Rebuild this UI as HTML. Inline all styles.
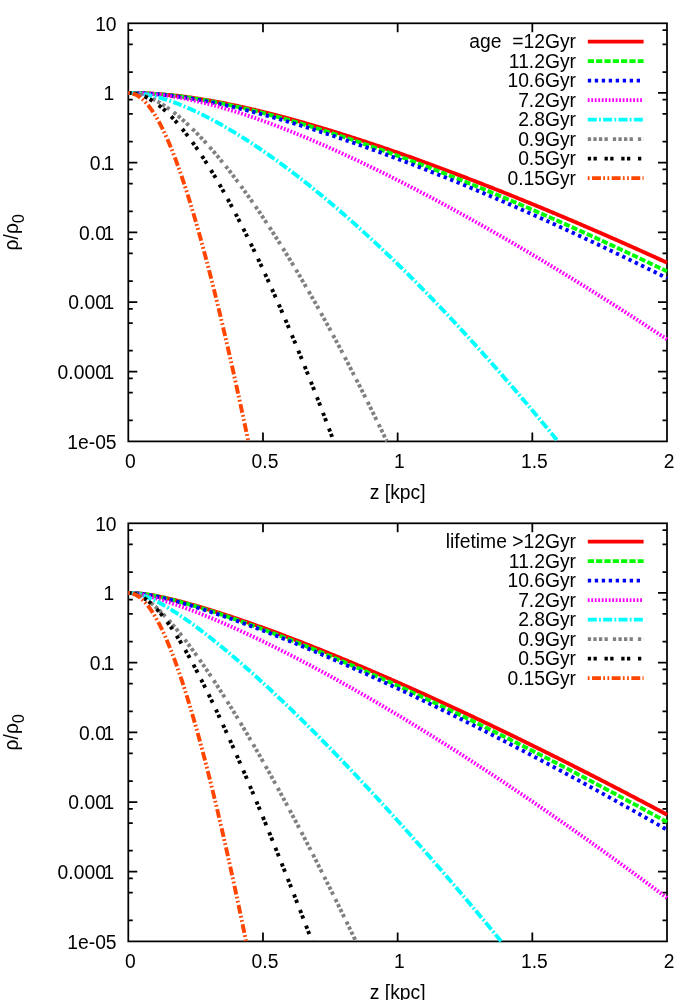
<!DOCTYPE html>
<html><head><meta charset="utf-8"><title>chart</title>
<style>
html,body{margin:0;padding:0;background:#fff;}
svg{display:block;will-change:transform;}
text{font-family:"Liberation Sans",sans-serif;font-size:19.3px;fill:#000;}
</style></head><body>
<svg width="700" height="1000" viewBox="0 0 700 1000">
<rect width="700" height="1000" fill="#fff"/>
<rect x="128.3" y="23.3" width="538.7" height="418.09999999999997" fill="none" stroke="#000" stroke-width="1.75"/>
<path d="M128.3,30.05h4.5 M667.0,30.05h-4.5 M128.3,44.28h4.5 M667.0,44.28h-4.5 M128.3,72.01h4.5 M667.0,72.01h-4.5 M128.3,92.98h9 M667.0,92.98h-9 M128.3,99.74h4.5 M667.0,99.74h-4.5 M128.3,113.96h4.5 M667.0,113.96h-4.5 M128.3,141.69h4.5 M667.0,141.69h-4.5 M128.3,162.67h9 M667.0,162.67h-9 M128.3,169.42h4.5 M667.0,169.42h-4.5 M128.3,183.64h4.5 M667.0,183.64h-4.5 M128.3,211.37h4.5 M667.0,211.37h-4.5 M128.3,232.35h9 M667.0,232.35h-9 M128.3,239.10h4.5 M667.0,239.10h-4.5 M128.3,253.33h4.5 M667.0,253.33h-4.5 M128.3,281.06h4.5 M667.0,281.06h-4.5 M128.3,302.03h9 M667.0,302.03h-9 M128.3,308.79h4.5 M667.0,308.79h-4.5 M128.3,323.01h4.5 M667.0,323.01h-4.5 M128.3,350.74h4.5 M667.0,350.74h-4.5 M128.3,371.72h9 M667.0,371.72h-9 M128.3,378.47h4.5 M667.0,378.47h-4.5 M128.3,392.69h4.5 M667.0,392.69h-4.5 M128.3,420.42h4.5 M667.0,420.42h-4.5 M262.98,441.4v-9 M262.98,23.3v9 M397.65,441.4v-9 M397.65,23.3v9 M532.33,441.4v-9 M532.33,23.3v9" fill="none" stroke="#000" stroke-width="1.75"/>
<text transform="translate(116.60,30.50) scale(1,1.045)" text-anchor="end">10</text>
<text transform="translate(114.30,100.18) scale(1,1.045)" text-anchor="end">1</text>
<text transform="translate(114.30,169.87) scale(1,1.045)" text-anchor="end">0.<tspan dx="-2.3">1</tspan></text>
<text transform="translate(114.30,239.55) scale(1,1.045)" text-anchor="end">0.0<tspan dx="-2.3">1</tspan></text>
<text transform="translate(114.30,309.23) scale(1,1.045)" text-anchor="end">0.00<tspan dx="-2.3">1</tspan></text>
<text transform="translate(114.30,378.92) scale(1,1.045)" text-anchor="end">0.000<tspan dx="-2.3">1</tspan></text>
<text transform="translate(116.60,448.60) scale(1,1.045)" text-anchor="end">1e-05</text>
<text transform="translate(130.30,467.60) scale(1,1.045)" text-anchor="middle">0</text>
<text transform="translate(264.98,467.60) scale(1,1.045)" text-anchor="middle">0.5</text>
<text transform="translate(399.45,467.60) scale(1,1.045)" text-anchor="middle">1</text>
<text transform="translate(534.33,467.60) scale(1,1.045)" text-anchor="middle">1.5</text>
<text transform="translate(669.00,467.60) scale(1,1.045)" text-anchor="middle">2</text>
<text x="397.65" y="498.70" text-anchor="middle">z [kpc]</text>
<text transform="translate(17.7,232.35) rotate(-90)" text-anchor="middle">ρ/ρ<tspan font-size="15.8" dy="6.5">0</tspan></text>
<text x="576" y="48.20" text-anchor="end">age&#160;&#160;=12Gyr</text>
<path d="M587.8,41.60H643.6" fill="none" stroke="#ff0000" stroke-width="3.9"/>
<path d="M128.30,92.98 L129.65,92.99 L131.00,92.99 L132.35,93.00 L133.70,93.02 L135.05,93.04 L136.40,93.06 L137.75,93.09 L139.10,93.13 L140.45,93.17 L141.80,93.21 L143.15,93.25 L144.50,93.31 L145.85,93.36 L147.20,93.42 L148.55,93.49 L149.90,93.56 L151.25,93.63 L152.60,93.71 L153.95,93.79 L155.30,93.88 L156.65,93.97 L158.00,94.06 L159.35,94.16 L160.70,94.26 L162.05,94.37 L163.40,94.48 L164.75,94.60 L166.10,94.72 L167.45,94.84 L168.80,94.97 L170.15,95.10 L171.50,95.23 L172.85,95.37 L174.20,95.52 L175.55,95.66 L176.90,95.81 L178.25,95.97 L179.60,96.13 L180.95,96.29 L182.31,96.46 L183.66,96.62 L185.01,96.80 L186.36,96.97 L187.71,97.15 L189.06,97.34 L190.41,97.53 L191.76,97.72 L193.11,97.91 L194.46,98.11 L195.81,98.31 L197.16,98.51 L198.51,98.72 L199.86,98.93 L201.21,99.15 L202.56,99.36 L203.91,99.58 L205.26,99.81 L206.61,100.03 L207.96,100.26 L209.31,100.49 L210.66,100.73 L212.01,100.97 L213.36,101.21 L214.71,101.45 L216.06,101.70 L217.41,101.95 L218.76,102.20 L220.11,102.46 L221.46,102.72 L222.81,102.98 L224.16,103.24 L225.51,103.51 L226.86,103.78 L228.21,104.05 L229.56,104.32 L230.91,104.60 L232.26,104.88 L233.61,105.16 L234.96,105.45 L236.31,105.73 L237.66,106.02 L239.01,106.31 L240.36,106.61 L241.71,106.90 L243.06,107.20 L244.41,107.50 L245.76,107.81 L247.11,108.11 L248.46,108.42 L249.81,108.73 L251.16,109.04 L252.51,109.36 L253.86,109.67 L255.21,109.99 L256.56,110.31 L257.91,110.63 L259.26,110.96 L260.61,111.29 L261.96,111.61 L263.31,111.95 L264.66,112.28 L266.01,112.61 L267.36,112.95 L268.71,113.29 L270.06,113.63 L271.41,113.97 L272.76,114.32 L274.11,114.66 L275.46,115.01 L276.81,115.36 L278.16,115.71 L279.51,116.07 L280.86,116.42 L282.21,116.78 L283.56,117.14 L284.91,117.50 L286.26,117.86 L287.61,118.23 L288.96,118.59 L290.32,118.96 L291.67,119.33 L293.02,119.70 L294.37,120.07 L295.72,120.45 L297.07,120.82 L298.42,121.20 L299.77,121.58 L301.12,121.96 L302.47,122.34 L303.82,122.73 L305.17,123.11 L306.52,123.50 L307.87,123.89 L309.22,124.28 L310.57,124.67 L311.92,125.06 L313.27,125.46 L314.62,125.85 L315.97,126.25 L317.32,126.65 L318.67,127.05 L320.02,127.45 L321.37,127.85 L322.72,128.26 L324.07,128.66 L325.42,129.07 L326.77,129.48 L328.12,129.89 L329.47,130.30 L330.82,130.71 L332.17,131.13 L333.52,131.54 L334.87,131.96 L336.22,132.38 L337.57,132.80 L338.92,133.22 L340.27,133.64 L341.62,134.06 L342.97,134.49 L344.32,134.91 L345.67,135.34 L347.02,135.77 L348.37,136.20 L349.72,136.63 L351.07,137.06 L352.42,137.49 L353.77,137.93 L355.12,138.36 L356.47,138.80 L357.82,139.24 L359.17,139.68 L360.52,140.12 L361.87,140.56 L363.22,141.00 L364.57,141.45 L365.92,141.89 L367.27,142.34 L368.62,142.79 L369.97,143.23 L371.32,143.68 L372.67,144.13 L374.02,144.59 L375.37,145.04 L376.72,145.49 L378.07,145.95 L379.42,146.41 L380.77,146.86 L382.12,147.32 L383.47,147.78 L384.82,148.24 L386.17,148.70 L387.52,149.17 L388.87,149.63 L390.22,150.09 L391.57,150.56 L392.92,151.03 L394.27,151.49 L395.62,151.96 L396.97,152.43 L398.33,152.90 L399.68,153.38 L401.03,153.85 L402.38,154.32 L403.73,154.80 L405.08,155.28 L406.43,155.75 L407.78,156.23 L409.13,156.71 L410.48,157.19 L411.83,157.67 L413.18,158.15 L414.53,158.64 L415.88,159.12 L417.23,159.60 L418.58,160.09 L419.93,160.58 L421.28,161.06 L422.63,161.55 L423.98,162.04 L425.33,162.53 L426.68,163.02 L428.03,163.52 L429.38,164.01 L430.73,164.50 L432.08,165.00 L433.43,165.50 L434.78,165.99 L436.13,166.49 L437.48,166.99 L438.83,167.49 L440.18,167.99 L441.53,168.49 L442.88,168.99 L444.23,169.50 L445.58,170.00 L446.93,170.50 L448.28,171.01 L449.63,171.52 L450.98,172.02 L452.33,172.53 L453.68,173.04 L455.03,173.55 L456.38,174.06 L457.73,174.58 L459.08,175.09 L460.43,175.60 L461.78,176.12 L463.13,176.63 L464.48,177.15 L465.83,177.66 L467.18,178.18 L468.53,178.70 L469.88,179.22 L471.23,179.74 L472.58,180.26 L473.93,180.78 L475.28,181.30 L476.63,181.83 L477.98,182.35 L479.33,182.88 L480.68,183.40 L482.03,183.93 L483.38,184.46 L484.73,184.99 L486.08,185.51 L487.43,186.04 L488.78,186.57 L490.13,187.11 L491.48,187.64 L492.83,188.17 L494.18,188.70 L495.53,189.24 L496.88,189.77 L498.23,190.31 L499.58,190.85 L500.93,191.38 L502.28,191.92 L503.63,192.46 L504.98,193.00 L506.34,193.54 L507.69,194.08 L509.04,194.63 L510.39,195.17 L511.74,195.71 L513.09,196.26 L514.44,196.80 L515.79,197.35 L517.14,197.89 L518.49,198.44 L519.84,198.99 L521.19,199.54 L522.54,200.09 L523.89,200.64 L525.24,201.19 L526.59,201.74 L527.94,202.29 L529.29,202.84 L530.64,203.40 L531.99,203.95 L533.34,204.51 L534.69,205.06 L536.04,205.62 L537.39,206.18 L538.74,206.73 L540.09,207.29 L541.44,207.85 L542.79,208.41 L544.14,208.97 L545.49,209.53 L546.84,210.10 L548.19,210.66 L549.54,211.22 L550.89,211.79 L552.24,212.35 L553.59,212.92 L554.94,213.48 L556.29,214.05 L557.64,214.62 L558.99,215.19 L560.34,215.75 L561.69,216.32 L563.04,216.89 L564.39,217.46 L565.74,218.04 L567.09,218.61 L568.44,219.18 L569.79,219.75 L571.14,220.33 L572.49,220.90 L573.84,221.48 L575.19,222.06 L576.54,222.63 L577.89,223.21 L579.24,223.79 L580.59,224.37 L581.94,224.95 L583.29,225.53 L584.64,226.11 L585.99,226.69 L587.34,227.27 L588.69,227.85 L590.04,228.44 L591.39,229.02 L592.74,229.60 L594.09,230.19 L595.44,230.77 L596.79,231.36 L598.14,231.95 L599.49,232.54 L600.84,233.12 L602.19,233.71 L603.54,234.30 L604.89,234.89 L606.24,235.48 L607.59,236.07 L608.94,236.67 L610.29,237.26 L611.64,237.85 L612.99,238.45 L614.35,239.04 L615.70,239.64 L617.05,240.23 L618.40,240.83 L619.75,241.42 L621.10,242.02 L622.45,242.62 L623.80,243.22 L625.15,243.82 L626.50,244.42 L627.85,245.02 L629.20,245.62 L630.55,246.22 L631.90,246.82 L633.25,247.43 L634.60,248.03 L635.95,248.63 L637.30,249.24 L638.65,249.84 L640.00,250.45 L641.35,251.06 L642.70,251.66 L644.05,252.27 L645.40,252.88 L646.75,253.49 L648.10,254.10 L649.45,254.71 L650.80,255.32 L652.15,255.93 L653.50,256.54 L654.85,257.15 L656.20,257.76 L657.55,258.38 L658.90,258.99 L660.25,259.61 L661.60,260.22 L662.95,260.84 L664.30,261.45 L665.65,262.07 L667.00,262.69" fill="none" stroke="#ff0000" stroke-width="3.9"/>
<text x="576" y="67.70" text-anchor="end">11.2Gyr</text>
<path d="M587.8,61.10H643.6" fill="none" stroke="#00ff00" stroke-width="3.9" stroke-dasharray="6.2 2.12"/>
<path d="M128.30,92.98 L129.65,92.99 L131.00,92.99 L132.35,93.01 L133.70,93.02 L135.05,93.04 L136.40,93.07 L137.75,93.10 L139.10,93.14 L140.45,93.18 L141.80,93.23 L143.15,93.28 L144.50,93.33 L145.85,93.39 L147.20,93.46 L148.55,93.53 L149.90,93.60 L151.25,93.68 L152.60,93.77 L153.95,93.85 L155.30,93.95 L156.65,94.04 L158.00,94.15 L159.35,94.25 L160.70,94.36 L162.05,94.48 L163.40,94.60 L164.75,94.72 L166.10,94.85 L167.45,94.98 L168.80,95.12 L170.15,95.26 L171.50,95.41 L172.85,95.56 L174.20,95.71 L175.55,95.87 L176.90,96.03 L178.25,96.20 L179.60,96.37 L180.95,96.54 L182.31,96.72 L183.66,96.90 L185.01,97.08 L186.36,97.27 L187.71,97.47 L189.06,97.66 L190.41,97.86 L191.76,98.07 L193.11,98.27 L194.46,98.48 L195.81,98.70 L197.16,98.92 L198.51,99.14 L199.86,99.36 L201.21,99.59 L202.56,99.82 L203.91,100.05 L205.26,100.29 L206.61,100.53 L207.96,100.78 L209.31,101.02 L210.66,101.27 L212.01,101.53 L213.36,101.78 L214.71,102.04 L216.06,102.30 L217.41,102.57 L218.76,102.84 L220.11,103.11 L221.46,103.38 L222.81,103.66 L224.16,103.94 L225.51,104.22 L226.86,104.50 L228.21,104.79 L229.56,105.08 L230.91,105.37 L232.26,105.67 L233.61,105.97 L234.96,106.27 L236.31,106.57 L237.66,106.87 L239.01,107.18 L240.36,107.49 L241.71,107.81 L243.06,108.12 L244.41,108.44 L245.76,108.76 L247.11,109.08 L248.46,109.40 L249.81,109.73 L251.16,110.06 L252.51,110.39 L253.86,110.72 L255.21,111.06 L256.56,111.40 L257.91,111.74 L259.26,112.08 L260.61,112.42 L261.96,112.77 L263.31,113.12 L264.66,113.47 L266.01,113.82 L267.36,114.17 L268.71,114.53 L270.06,114.89 L271.41,115.25 L272.76,115.61 L274.11,115.97 L275.46,116.34 L276.81,116.71 L278.16,117.08 L279.51,117.45 L280.86,117.82 L282.21,118.20 L283.56,118.57 L284.91,118.95 L286.26,119.33 L287.61,119.71 L288.96,120.10 L290.32,120.48 L291.67,120.87 L293.02,121.26 L294.37,121.65 L295.72,122.04 L297.07,122.44 L298.42,122.83 L299.77,123.23 L301.12,123.63 L302.47,124.03 L303.82,124.43 L305.17,124.84 L306.52,125.24 L307.87,125.65 L309.22,126.06 L310.57,126.47 L311.92,126.88 L313.27,127.29 L314.62,127.71 L315.97,128.13 L317.32,128.54 L318.67,128.96 L320.02,129.38 L321.37,129.81 L322.72,130.23 L324.07,130.65 L325.42,131.08 L326.77,131.51 L328.12,131.94 L329.47,132.37 L330.82,132.80 L332.17,133.24 L333.52,133.67 L334.87,134.11 L336.22,134.55 L337.57,134.98 L338.92,135.42 L340.27,135.87 L341.62,136.31 L342.97,136.75 L344.32,137.20 L345.67,137.65 L347.02,138.10 L348.37,138.55 L349.72,139.00 L351.07,139.45 L352.42,139.90 L353.77,140.36 L355.12,140.81 L356.47,141.27 L357.82,141.73 L359.17,142.19 L360.52,142.65 L361.87,143.11 L363.22,143.58 L364.57,144.04 L365.92,144.51 L367.27,144.97 L368.62,145.44 L369.97,145.91 L371.32,146.38 L372.67,146.86 L374.02,147.33 L375.37,147.80 L376.72,148.28 L378.07,148.76 L379.42,149.23 L380.77,149.71 L382.12,150.19 L383.47,150.67 L384.82,151.16 L386.17,151.64 L387.52,152.12 L388.87,152.61 L390.22,153.10 L391.57,153.58 L392.92,154.07 L394.27,154.56 L395.62,155.05 L396.97,155.55 L398.33,156.04 L399.68,156.53 L401.03,157.03 L402.38,157.53 L403.73,158.02 L405.08,158.52 L406.43,159.02 L407.78,159.52 L409.13,160.02 L410.48,160.53 L411.83,161.03 L413.18,161.54 L414.53,162.04 L415.88,162.55 L417.23,163.06 L418.58,163.57 L419.93,164.07 L421.28,164.59 L422.63,165.10 L423.98,165.61 L425.33,166.12 L426.68,166.64 L428.03,167.16 L429.38,167.67 L430.73,168.19 L432.08,168.71 L433.43,169.23 L434.78,169.75 L436.13,170.27 L437.48,170.79 L438.83,171.32 L440.18,171.84 L441.53,172.37 L442.88,172.89 L444.23,173.42 L445.58,173.95 L446.93,174.48 L448.28,175.01 L449.63,175.54 L450.98,176.07 L452.33,176.61 L453.68,177.14 L455.03,177.67 L456.38,178.21 L457.73,178.75 L459.08,179.28 L460.43,179.82 L461.78,180.36 L463.13,180.90 L464.48,181.44 L465.83,181.99 L467.18,182.53 L468.53,183.07 L469.88,183.62 L471.23,184.16 L472.58,184.71 L473.93,185.26 L475.28,185.80 L476.63,186.35 L477.98,186.90 L479.33,187.45 L480.68,188.01 L482.03,188.56 L483.38,189.11 L484.73,189.67 L486.08,190.22 L487.43,190.78 L488.78,191.33 L490.13,191.89 L491.48,192.45 L492.83,193.01 L494.18,193.57 L495.53,194.13 L496.88,194.69 L498.23,195.25 L499.58,195.82 L500.93,196.38 L502.28,196.95 L503.63,197.51 L504.98,198.08 L506.34,198.65 L507.69,199.21 L509.04,199.78 L510.39,200.35 L511.74,200.92 L513.09,201.49 L514.44,202.07 L515.79,202.64 L517.14,203.21 L518.49,203.79 L519.84,204.36 L521.19,204.94 L522.54,205.52 L523.89,206.09 L525.24,206.67 L526.59,207.25 L527.94,207.83 L529.29,208.41 L530.64,209.00 L531.99,209.58 L533.34,210.16 L534.69,210.74 L536.04,211.33 L537.39,211.92 L538.74,212.50 L540.09,213.09 L541.44,213.68 L542.79,214.26 L544.14,214.85 L545.49,215.44 L546.84,216.03 L548.19,216.63 L549.54,217.22 L550.89,217.81 L552.24,218.41 L553.59,219.00 L554.94,219.59 L556.29,220.19 L557.64,220.79 L558.99,221.38 L560.34,221.98 L561.69,222.58 L563.04,223.18 L564.39,223.78 L565.74,224.38 L567.09,224.98 L568.44,225.59 L569.79,226.19 L571.14,226.79 L572.49,227.40 L573.84,228.00 L575.19,228.61 L576.54,229.22 L577.89,229.82 L579.24,230.43 L580.59,231.04 L581.94,231.65 L583.29,232.26 L584.64,232.87 L585.99,233.48 L587.34,234.10 L588.69,234.71 L590.04,235.32 L591.39,235.94 L592.74,236.55 L594.09,237.17 L595.44,237.79 L596.79,238.40 L598.14,239.02 L599.49,239.64 L600.84,240.26 L602.19,240.88 L603.54,241.50 L604.89,242.12 L606.24,242.74 L607.59,243.36 L608.94,243.99 L610.29,244.61 L611.64,245.24 L612.99,245.86 L614.35,246.49 L615.70,247.11 L617.05,247.74 L618.40,248.37 L619.75,249.00 L621.10,249.63 L622.45,250.26 L623.80,250.89 L625.15,251.52 L626.50,252.15 L627.85,252.78 L629.20,253.42 L630.55,254.05 L631.90,254.69 L633.25,255.32 L634.60,255.96 L635.95,256.59 L637.30,257.23 L638.65,257.87 L640.00,258.51 L641.35,259.15 L642.70,259.79 L644.05,260.43 L645.40,261.07 L646.75,261.71 L648.10,262.35 L649.45,262.99 L650.80,263.64 L652.15,264.28 L653.50,264.93 L654.85,265.57 L656.20,266.22 L657.55,266.86 L658.90,267.51 L660.25,268.16 L661.60,268.81 L662.95,269.46 L664.30,270.11 L665.65,270.76 L667.00,271.41" fill="none" stroke="#00ff00" stroke-width="3.9" stroke-dasharray="6.2 2.12"/>
<text x="576" y="87.20" text-anchor="end">10.6Gyr</text>
<path d="M587.8,80.60H643.6" fill="none" stroke="#0000ff" stroke-width="3.9" stroke-dasharray="3.35 3.63"/>
<path d="M128.30,92.98 L129.65,92.99 L131.00,92.99 L132.35,93.01 L133.70,93.03 L135.05,93.05 L136.40,93.08 L137.75,93.12 L139.10,93.16 L140.45,93.21 L141.80,93.26 L143.15,93.32 L144.50,93.38 L145.85,93.45 L147.20,93.52 L148.55,93.60 L149.90,93.69 L151.25,93.78 L152.60,93.87 L153.95,93.97 L155.30,94.08 L156.65,94.19 L158.00,94.30 L159.35,94.42 L160.70,94.55 L162.05,94.68 L163.40,94.81 L164.75,94.95 L166.10,95.10 L167.45,95.24 L168.80,95.40 L170.15,95.55 L171.50,95.72 L172.85,95.88 L174.20,96.05 L175.55,96.23 L176.90,96.41 L178.25,96.59 L179.60,96.78 L180.95,96.97 L182.31,97.17 L183.66,97.37 L185.01,97.57 L186.36,97.78 L187.71,97.99 L189.06,98.21 L190.41,98.43 L191.76,98.65 L193.11,98.88 L194.46,99.11 L195.81,99.34 L197.16,99.58 L198.51,99.82 L199.86,100.06 L201.21,100.31 L202.56,100.56 L203.91,100.81 L205.26,101.07 L206.61,101.33 L207.96,101.59 L209.31,101.86 L210.66,102.13 L212.01,102.40 L213.36,102.68 L214.71,102.95 L216.06,103.23 L217.41,103.52 L218.76,103.81 L220.11,104.10 L221.46,104.39 L222.81,104.68 L224.16,104.98 L225.51,105.28 L226.86,105.59 L228.21,105.89 L229.56,106.20 L230.91,106.51 L232.26,106.82 L233.61,107.14 L234.96,107.46 L236.31,107.78 L237.66,108.10 L239.01,108.43 L240.36,108.76 L241.71,109.09 L243.06,109.42 L244.41,109.75 L245.76,110.09 L247.11,110.43 L248.46,110.77 L249.81,111.12 L251.16,111.46 L252.51,111.81 L253.86,112.16 L255.21,112.51 L256.56,112.87 L257.91,113.22 L259.26,113.58 L260.61,113.94 L261.96,114.31 L263.31,114.67 L264.66,115.04 L266.01,115.41 L267.36,115.78 L268.71,116.15 L270.06,116.52 L271.41,116.90 L272.76,117.28 L274.11,117.66 L275.46,118.04 L276.81,118.42 L278.16,118.81 L279.51,119.20 L280.86,119.59 L282.21,119.98 L283.56,120.37 L284.91,120.76 L286.26,121.16 L287.61,121.56 L288.96,121.96 L290.32,122.36 L291.67,122.76 L293.02,123.16 L294.37,123.57 L295.72,123.98 L297.07,124.39 L298.42,124.80 L299.77,125.21 L301.12,125.63 L302.47,126.04 L303.82,126.46 L305.17,126.88 L306.52,127.30 L307.87,127.72 L309.22,128.14 L310.57,128.57 L311.92,129.00 L313.27,129.42 L314.62,129.85 L315.97,130.28 L317.32,130.72 L318.67,131.15 L320.02,131.59 L321.37,132.02 L322.72,132.46 L324.07,132.90 L325.42,133.34 L326.77,133.78 L328.12,134.23 L329.47,134.67 L330.82,135.12 L332.17,135.57 L333.52,136.02 L334.87,136.47 L336.22,136.92 L337.57,137.38 L338.92,137.83 L340.27,138.29 L341.62,138.74 L342.97,139.20 L344.32,139.66 L345.67,140.13 L347.02,140.59 L348.37,141.05 L349.72,141.52 L351.07,141.98 L352.42,142.45 L353.77,142.92 L355.12,143.39 L356.47,143.86 L357.82,144.34 L359.17,144.81 L360.52,145.29 L361.87,145.76 L363.22,146.24 L364.57,146.72 L365.92,147.20 L367.27,147.68 L368.62,148.17 L369.97,148.65 L371.32,149.14 L372.67,149.62 L374.02,150.11 L375.37,150.60 L376.72,151.09 L378.07,151.58 L379.42,152.07 L380.77,152.57 L382.12,153.06 L383.47,153.56 L384.82,154.05 L386.17,154.55 L387.52,155.05 L388.87,155.55 L390.22,156.05 L391.57,156.55 L392.92,157.06 L394.27,157.56 L395.62,158.07 L396.97,158.58 L398.33,159.08 L399.68,159.59 L401.03,160.10 L402.38,160.62 L403.73,161.13 L405.08,161.64 L406.43,162.16 L407.78,162.67 L409.13,163.19 L410.48,163.71 L411.83,164.22 L413.18,164.74 L414.53,165.27 L415.88,165.79 L417.23,166.31 L418.58,166.83 L419.93,167.36 L421.28,167.89 L422.63,168.41 L423.98,168.94 L425.33,169.47 L426.68,170.00 L428.03,170.53 L429.38,171.06 L430.73,171.60 L432.08,172.13 L433.43,172.67 L434.78,173.20 L436.13,173.74 L437.48,174.28 L438.83,174.82 L440.18,175.36 L441.53,175.90 L442.88,176.44 L444.23,176.98 L445.58,177.53 L446.93,178.07 L448.28,178.62 L449.63,179.17 L450.98,179.71 L452.33,180.26 L453.68,180.81 L455.03,181.36 L456.38,181.91 L457.73,182.47 L459.08,183.02 L460.43,183.58 L461.78,184.13 L463.13,184.69 L464.48,185.24 L465.83,185.80 L467.18,186.36 L468.53,186.92 L469.88,187.48 L471.23,188.05 L472.58,188.61 L473.93,189.17 L475.28,189.74 L476.63,190.30 L477.98,190.87 L479.33,191.44 L480.68,192.00 L482.03,192.57 L483.38,193.14 L484.73,193.71 L486.08,194.29 L487.43,194.86 L488.78,195.43 L490.13,196.01 L491.48,196.58 L492.83,197.16 L494.18,197.73 L495.53,198.31 L496.88,198.89 L498.23,199.47 L499.58,200.05 L500.93,200.63 L502.28,201.22 L503.63,201.80 L504.98,202.38 L506.34,202.97 L507.69,203.55 L509.04,204.14 L510.39,204.73 L511.74,205.32 L513.09,205.90 L514.44,206.49 L515.79,207.08 L517.14,207.68 L518.49,208.27 L519.84,208.86 L521.19,209.46 L522.54,210.05 L523.89,210.65 L525.24,211.24 L526.59,211.84 L527.94,212.44 L529.29,213.04 L530.64,213.64 L531.99,214.24 L533.34,214.84 L534.69,215.44 L536.04,216.04 L537.39,216.65 L538.74,217.25 L540.09,217.86 L541.44,218.46 L542.79,219.07 L544.14,219.68 L545.49,220.29 L546.84,220.90 L548.19,221.51 L549.54,222.12 L550.89,222.73 L552.24,223.34 L553.59,223.96 L554.94,224.57 L556.29,225.19 L557.64,225.80 L558.99,226.42 L560.34,227.03 L561.69,227.65 L563.04,228.27 L564.39,228.89 L565.74,229.51 L567.09,230.13 L568.44,230.75 L569.79,231.38 L571.14,232.00 L572.49,232.62 L573.84,233.25 L575.19,233.88 L576.54,234.50 L577.89,235.13 L579.24,235.76 L580.59,236.39 L581.94,237.01 L583.29,237.64 L584.64,238.28 L585.99,238.91 L587.34,239.54 L588.69,240.17 L590.04,240.81 L591.39,241.44 L592.74,242.08 L594.09,242.71 L595.44,243.35 L596.79,243.99 L598.14,244.63 L599.49,245.26 L600.84,245.90 L602.19,246.54 L603.54,247.19 L604.89,247.83 L606.24,248.47 L607.59,249.11 L608.94,249.76 L610.29,250.40 L611.64,251.05 L612.99,251.69 L614.35,252.34 L615.70,252.99 L617.05,253.64 L618.40,254.29 L619.75,254.94 L621.10,255.59 L622.45,256.24 L623.80,256.89 L625.15,257.54 L626.50,258.20 L627.85,258.85 L629.20,259.50 L630.55,260.16 L631.90,260.82 L633.25,261.47 L634.60,262.13 L635.95,262.79 L637.30,263.45 L638.65,264.11 L640.00,264.77 L641.35,265.43 L642.70,266.09 L644.05,266.75 L645.40,267.41 L646.75,268.08 L648.10,268.74 L649.45,269.41 L650.80,270.07 L652.15,270.74 L653.50,271.41 L654.85,272.08 L656.20,272.74 L657.55,273.41 L658.90,274.08 L660.25,274.75 L661.60,275.42 L662.95,276.10 L664.30,276.77 L665.65,277.44 L667.00,278.12" fill="none" stroke="#0000ff" stroke-width="3.9" stroke-dasharray="3.35 3.63"/>
<text x="576" y="106.70" text-anchor="end">7.2Gyr</text>
<path d="M587.8,100.10H643.6" fill="none" stroke="#ff00ff" stroke-width="3.9" stroke-dasharray="1.8 1.69"/>
<path d="M128.30,92.98 L129.65,92.99 L131.00,93.00 L132.35,93.01 L133.70,93.04 L135.05,93.07 L136.40,93.10 L137.75,93.15 L139.10,93.20 L140.45,93.26 L141.80,93.32 L143.15,93.39 L144.50,93.47 L145.85,93.55 L147.20,93.64 L148.55,93.74 L149.90,93.84 L151.25,93.95 L152.60,94.07 L153.95,94.19 L155.30,94.32 L156.65,94.46 L158.00,94.60 L159.35,94.75 L160.70,94.90 L162.05,95.06 L163.40,95.23 L164.75,95.40 L166.10,95.58 L167.45,95.76 L168.80,95.95 L170.15,96.15 L171.50,96.35 L172.85,96.56 L174.20,96.77 L175.55,96.99 L176.90,97.22 L178.25,97.45 L179.60,97.68 L180.95,97.92 L182.31,98.17 L183.66,98.42 L185.01,98.68 L186.36,98.94 L187.71,99.21 L189.06,99.48 L190.41,99.76 L191.76,100.05 L193.11,100.33 L194.46,100.63 L195.81,100.92 L197.16,101.23 L198.51,101.53 L199.86,101.85 L201.21,102.16 L202.56,102.49 L203.91,102.81 L205.26,103.14 L206.61,103.48 L207.96,103.82 L209.31,104.16 L210.66,104.51 L212.01,104.86 L213.36,105.22 L214.71,105.58 L216.06,105.94 L217.41,106.31 L218.76,106.68 L220.11,107.06 L221.46,107.44 L222.81,107.83 L224.16,108.21 L225.51,108.61 L226.86,109.00 L228.21,109.40 L229.56,109.81 L230.91,110.21 L232.26,110.62 L233.61,111.04 L234.96,111.46 L236.31,111.88 L237.66,112.30 L239.01,112.73 L240.36,113.16 L241.71,113.60 L243.06,114.04 L244.41,114.48 L245.76,114.92 L247.11,115.37 L248.46,115.82 L249.81,116.28 L251.16,116.73 L252.51,117.19 L253.86,117.66 L255.21,118.13 L256.56,118.59 L257.91,119.07 L259.26,119.54 L260.61,120.02 L261.96,120.50 L263.31,120.99 L264.66,121.47 L266.01,121.96 L267.36,122.46 L268.71,122.95 L270.06,123.45 L271.41,123.95 L272.76,124.45 L274.11,124.96 L275.46,125.47 L276.81,125.98 L278.16,126.49 L279.51,127.01 L280.86,127.53 L282.21,128.05 L283.56,128.58 L284.91,129.10 L286.26,129.63 L287.61,130.16 L288.96,130.70 L290.32,131.23 L291.67,131.77 L293.02,132.31 L294.37,132.86 L295.72,133.40 L297.07,133.95 L298.42,134.50 L299.77,135.05 L301.12,135.61 L302.47,136.16 L303.82,136.72 L305.17,137.28 L306.52,137.85 L307.87,138.41 L309.22,138.98 L310.57,139.55 L311.92,140.12 L313.27,140.70 L314.62,141.27 L315.97,141.85 L317.32,142.43 L318.67,143.01 L320.02,143.60 L321.37,144.18 L322.72,144.77 L324.07,145.36 L325.42,145.95 L326.77,146.55 L328.12,147.14 L329.47,147.74 L330.82,148.34 L332.17,148.94 L333.52,149.55 L334.87,150.15 L336.22,150.76 L337.57,151.37 L338.92,151.98 L340.27,152.59 L341.62,153.21 L342.97,153.82 L344.32,154.44 L345.67,155.06 L347.02,155.69 L348.37,156.31 L349.72,156.93 L351.07,157.56 L352.42,158.19 L353.77,158.82 L355.12,159.45 L356.47,160.09 L357.82,160.72 L359.17,161.36 L360.52,162.00 L361.87,162.64 L363.22,163.28 L364.57,163.93 L365.92,164.57 L367.27,165.22 L368.62,165.87 L369.97,166.52 L371.32,167.17 L372.67,167.83 L374.02,168.48 L375.37,169.14 L376.72,169.80 L378.07,170.46 L379.42,171.12 L380.77,171.78 L382.12,172.45 L383.47,173.11 L384.82,173.78 L386.17,174.45 L387.52,175.12 L388.87,175.79 L390.22,176.47 L391.57,177.14 L392.92,177.82 L394.27,178.50 L395.62,179.18 L396.97,179.86 L398.33,180.54 L399.68,181.22 L401.03,181.91 L402.38,182.60 L403.73,183.29 L405.08,183.98 L406.43,184.67 L407.78,185.36 L409.13,186.05 L410.48,186.75 L411.83,187.45 L413.18,188.14 L414.53,188.84 L415.88,189.54 L417.23,190.25 L418.58,190.95 L419.93,191.65 L421.28,192.36 L422.63,193.07 L423.98,193.78 L425.33,194.49 L426.68,195.20 L428.03,195.91 L429.38,196.63 L430.73,197.34 L432.08,198.06 L433.43,198.78 L434.78,199.50 L436.13,200.22 L437.48,200.94 L438.83,201.66 L440.18,202.39 L441.53,203.11 L442.88,203.84 L444.23,204.57 L445.58,205.30 L446.93,206.03 L448.28,206.76 L449.63,207.49 L450.98,208.23 L452.33,208.96 L453.68,209.70 L455.03,210.44 L456.38,211.18 L457.73,211.92 L459.08,212.66 L460.43,213.40 L461.78,214.15 L463.13,214.89 L464.48,215.64 L465.83,216.39 L467.18,217.14 L468.53,217.89 L469.88,218.64 L471.23,219.39 L472.58,220.15 L473.93,220.90 L475.28,221.66 L476.63,222.41 L477.98,223.17 L479.33,223.93 L480.68,224.69 L482.03,225.45 L483.38,226.22 L484.73,226.98 L486.08,227.75 L487.43,228.51 L488.78,229.28 L490.13,230.05 L491.48,230.82 L492.83,231.59 L494.18,232.36 L495.53,233.13 L496.88,233.91 L498.23,234.68 L499.58,235.46 L500.93,236.24 L502.28,237.02 L503.63,237.79 L504.98,238.58 L506.34,239.36 L507.69,240.14 L509.04,240.92 L510.39,241.71 L511.74,242.49 L513.09,243.28 L514.44,244.07 L515.79,244.86 L517.14,245.65 L518.49,246.44 L519.84,247.23 L521.19,248.03 L522.54,248.82 L523.89,249.62 L525.24,250.41 L526.59,251.21 L527.94,252.01 L529.29,252.81 L530.64,253.61 L531.99,254.41 L533.34,255.21 L534.69,256.02 L536.04,256.82 L537.39,257.63 L538.74,258.43 L540.09,259.24 L541.44,260.05 L542.79,260.86 L544.14,261.67 L545.49,262.48 L546.84,263.29 L548.19,264.11 L549.54,264.92 L550.89,265.74 L552.24,266.55 L553.59,267.37 L554.94,268.19 L556.29,269.01 L557.64,269.83 L558.99,270.65 L560.34,271.47 L561.69,272.30 L563.04,273.12 L564.39,273.95 L565.74,274.77 L567.09,275.60 L568.44,276.43 L569.79,277.26 L571.14,278.09 L572.49,278.92 L573.84,279.75 L575.19,280.58 L576.54,281.41 L577.89,282.25 L579.24,283.09 L580.59,283.92 L581.94,284.76 L583.29,285.60 L584.64,286.44 L585.99,287.28 L587.34,288.12 L588.69,288.96 L590.04,289.80 L591.39,290.65 L592.74,291.49 L594.09,292.34 L595.44,293.18 L596.79,294.03 L598.14,294.88 L599.49,295.73 L600.84,296.58 L602.19,297.43 L603.54,298.28 L604.89,299.14 L606.24,299.99 L607.59,300.84 L608.94,301.70 L610.29,302.56 L611.64,303.41 L612.99,304.27 L614.35,305.13 L615.70,305.99 L617.05,306.85 L618.40,307.71 L619.75,308.58 L621.10,309.44 L622.45,310.30 L623.80,311.17 L625.15,312.03 L626.50,312.90 L627.85,313.77 L629.20,314.64 L630.55,315.51 L631.90,316.38 L633.25,317.25 L634.60,318.12 L635.95,318.99 L637.30,319.87 L638.65,320.74 L640.00,321.62 L641.35,322.49 L642.70,323.37 L644.05,324.25 L645.40,325.13 L646.75,326.01 L648.10,326.89 L649.45,327.77 L650.80,328.65 L652.15,329.53 L653.50,330.42 L654.85,331.30 L656.20,332.19 L657.55,333.07 L658.90,333.96 L660.25,334.85 L661.60,335.74 L662.95,336.63 L664.30,337.52 L665.65,338.41 L667.00,339.30" fill="none" stroke="#ff00ff" stroke-width="3.9" stroke-dasharray="1.8 1.69"/>
<text x="576" y="126.20" text-anchor="end">2.8Gyr</text>
<path d="M587.8,119.60H643.6" fill="none" stroke="#00ffff" stroke-width="3.9" stroke-dasharray="8.96 2.3 1.8 2.3"/>
<path d="M128.30,92.98 L129.65,92.99 L131.00,93.02 L132.35,93.07 L133.70,93.13 L135.05,93.22 L136.40,93.32 L137.75,93.44 L139.10,93.58 L140.45,93.74 L141.80,93.91 L143.15,94.10 L144.50,94.31 L145.85,94.53 L147.20,94.77 L148.55,95.02 L149.90,95.29 L151.25,95.58 L152.60,95.88 L153.95,96.19 L155.30,96.52 L156.65,96.86 L158.00,97.22 L159.35,97.59 L160.70,97.97 L162.05,98.36 L163.40,98.76 L164.75,99.18 L166.10,99.61 L167.45,100.05 L168.80,100.50 L170.15,100.96 L171.50,101.43 L172.85,101.91 L174.20,102.40 L175.55,102.91 L176.90,103.42 L178.25,103.94 L179.60,104.47 L180.95,105.01 L182.31,105.56 L183.66,106.11 L185.01,106.68 L186.36,107.25 L187.71,107.84 L189.06,108.43 L190.41,109.03 L191.76,109.63 L193.11,110.25 L194.46,110.87 L195.81,111.50 L197.16,112.14 L198.51,112.79 L199.86,113.44 L201.21,114.10 L202.56,114.77 L203.91,115.44 L205.26,116.13 L206.61,116.81 L207.96,117.51 L209.31,118.21 L210.66,118.92 L212.01,119.64 L213.36,120.36 L214.71,121.09 L216.06,121.82 L217.41,122.56 L218.76,123.31 L220.11,124.06 L221.46,124.82 L222.81,125.59 L224.16,126.36 L225.51,127.14 L226.86,127.92 L228.21,128.71 L229.56,129.51 L230.91,130.31 L232.26,131.11 L233.61,131.93 L234.96,132.74 L236.31,133.57 L237.66,134.40 L239.01,135.23 L240.36,136.07 L241.71,136.92 L243.06,137.77 L244.41,138.62 L245.76,139.49 L247.11,140.35 L248.46,141.22 L249.81,142.10 L251.16,142.98 L252.51,143.87 L253.86,144.76 L255.21,145.66 L256.56,146.56 L257.91,147.47 L259.26,148.38 L260.61,149.30 L261.96,150.22 L263.31,151.15 L264.66,152.08 L266.01,153.02 L267.36,153.96 L268.71,154.91 L270.06,155.86 L271.41,156.81 L272.76,157.77 L274.11,158.74 L275.46,159.71 L276.81,160.68 L278.16,161.66 L279.51,162.64 L280.86,163.63 L282.21,164.62 L283.56,165.62 L284.91,166.62 L286.26,167.62 L287.61,168.63 L288.96,169.65 L290.32,170.67 L291.67,171.69 L293.02,172.72 L294.37,173.75 L295.72,174.78 L297.07,175.82 L298.42,176.87 L299.77,177.92 L301.12,178.97 L302.47,180.02 L303.82,181.09 L305.17,182.15 L306.52,183.22 L307.87,184.29 L309.22,185.37 L310.57,186.45 L311.92,187.54 L313.27,188.63 L314.62,189.72 L315.97,190.82 L317.32,191.92 L318.67,193.02 L320.02,194.13 L321.37,195.25 L322.72,196.36 L324.07,197.48 L325.42,198.61 L326.77,199.74 L328.12,200.87 L329.47,202.01 L330.82,203.15 L332.17,204.29 L333.52,205.44 L334.87,206.59 L336.22,207.75 L337.57,208.91 L338.92,210.07 L340.27,211.24 L341.62,212.41 L342.97,213.58 L344.32,214.76 L345.67,215.94 L347.02,217.12 L348.37,218.31 L349.72,219.51 L351.07,220.70 L352.42,221.90 L353.77,223.10 L355.12,224.31 L356.47,225.52 L357.82,226.74 L359.17,227.95 L360.52,229.18 L361.87,230.40 L363.22,231.63 L364.57,232.86 L365.92,234.09 L367.27,235.33 L368.62,236.58 L369.97,237.82 L371.32,239.07 L372.67,240.32 L374.02,241.58 L375.37,242.84 L376.72,244.10 L378.07,245.37 L379.42,246.64 L380.77,247.91 L382.12,249.19 L383.47,250.47 L384.82,251.75 L386.17,253.04 L387.52,254.33 L388.87,255.62 L390.22,256.92 L391.57,258.22 L392.92,259.52 L394.27,260.82 L395.62,262.13 L396.97,263.45 L398.33,264.76 L399.68,266.08 L401.03,267.41 L402.38,268.73 L403.73,270.06 L405.08,271.39 L406.43,272.73 L407.78,274.07 L409.13,275.41 L410.48,276.75 L411.83,278.10 L413.18,279.45 L414.53,280.81 L415.88,282.17 L417.23,283.53 L418.58,284.89 L419.93,286.26 L421.28,287.63 L422.63,289.00 L423.98,290.38 L425.33,291.76 L426.68,293.14 L428.03,294.53 L429.38,295.92 L430.73,297.31 L432.08,298.70 L433.43,300.10 L434.78,301.50 L436.13,302.91 L437.48,304.32 L438.83,305.73 L440.18,307.14 L441.53,308.56 L442.88,309.98 L444.23,311.40 L445.58,312.82 L446.93,314.25 L448.28,315.68 L449.63,317.12 L450.98,318.55 L452.33,319.99 L453.68,321.44 L455.03,322.88 L456.38,324.33 L457.73,325.78 L459.08,327.24 L460.43,328.70 L461.78,330.16 L463.13,331.62 L464.48,333.09 L465.83,334.56 L467.18,336.03 L468.53,337.51 L469.88,338.98 L471.23,340.46 L472.58,341.95 L473.93,343.44 L475.28,344.92 L476.63,346.42 L477.98,347.91 L479.33,349.41 L480.68,350.91 L482.03,352.42 L483.38,353.92 L484.73,355.43 L486.08,356.94 L487.43,358.46 L488.78,359.98 L490.13,361.50 L491.48,363.02 L492.83,364.55 L494.18,366.07 L495.53,367.61 L496.88,369.14 L498.23,370.68 L499.58,372.22 L500.93,373.76 L502.28,375.31 L503.63,376.85 L504.98,378.41 L506.34,379.96 L507.69,381.52 L509.04,383.07 L510.39,384.64 L511.74,386.20 L513.09,387.77 L514.44,389.34 L515.79,390.91 L517.14,392.49 L518.49,394.06 L519.84,395.64 L521.19,397.23 L522.54,398.81 L523.89,400.40 L525.24,401.99 L526.59,403.59 L527.94,405.18 L529.29,406.78 L530.64,408.38 L531.99,409.99 L533.34,411.60 L534.69,413.21 L536.04,414.82 L537.39,416.43 L538.74,418.05 L540.09,419.67 L541.44,421.29 L542.79,422.92 L544.14,424.55 L545.49,426.18 L546.84,427.81 L548.19,429.45 L549.54,431.08 L550.89,432.73 L552.24,434.37 L553.59,436.01 L554.94,437.66 L556.29,439.31 L557.64,440.97 L557.99,441.40" fill="none" stroke="#00ffff" stroke-width="3.9" stroke-dasharray="8.96 2.3 1.8 2.3"/>
<text x="576" y="145.70" text-anchor="end">0.9Gyr</text>
<path d="M587.8,139.10H643.6" fill="none" stroke="#808080" stroke-width="3.9" stroke-dasharray="3.3 2.27 3.3 2.27 3.3 2.27 3.3 5.04"/>
<path d="M128.30,92.98 L129.65,93.00 L131.00,93.06 L132.35,93.16 L133.70,93.29 L135.05,93.47 L136.40,93.68 L137.75,93.93 L139.10,94.21 L140.45,94.54 L141.80,94.90 L143.15,95.29 L144.50,95.72 L145.85,96.19 L147.20,96.69 L148.55,97.22 L149.90,97.78 L151.25,98.38 L152.60,99.01 L153.95,99.66 L155.30,100.35 L156.65,101.07 L158.00,101.81 L159.35,102.59 L160.70,103.39 L162.05,104.22 L163.40,105.07 L164.75,105.95 L166.10,106.86 L167.45,107.79 L168.80,108.74 L170.15,109.72 L171.50,110.72 L172.85,111.74 L174.20,112.79 L175.55,113.86 L176.90,114.95 L178.25,116.06 L179.60,117.19 L180.95,118.34 L182.31,119.51 L183.66,120.70 L185.01,121.91 L186.36,123.14 L187.71,124.39 L189.06,125.65 L190.41,126.94 L191.76,128.24 L193.11,129.56 L194.46,130.89 L195.81,132.25 L197.16,133.62 L198.51,135.00 L199.86,136.41 L201.21,137.83 L202.56,139.26 L203.91,140.71 L205.26,142.18 L206.61,143.66 L207.96,145.16 L209.31,146.67 L210.66,148.20 L212.01,149.74 L213.36,151.30 L214.71,152.87 L216.06,154.45 L217.41,156.05 L218.76,157.67 L220.11,159.29 L221.46,160.93 L222.81,162.59 L224.16,164.25 L225.51,165.93 L226.86,167.63 L228.21,169.33 L229.56,171.05 L230.91,172.79 L232.26,174.53 L233.61,176.29 L234.96,178.06 L236.31,179.84 L237.66,181.64 L239.01,183.44 L240.36,185.26 L241.71,187.09 L243.06,188.93 L244.41,190.79 L245.76,192.66 L247.11,194.53 L248.46,196.42 L249.81,198.32 L251.16,200.24 L252.51,202.16 L253.86,204.10 L255.21,206.04 L256.56,208.00 L257.91,209.97 L259.26,211.95 L260.61,213.94 L261.96,215.94 L263.31,217.95 L264.66,219.97 L266.01,222.00 L267.36,224.05 L268.71,226.10 L270.06,228.17 L271.41,230.24 L272.76,232.32 L274.11,234.42 L275.46,236.53 L276.81,238.64 L278.16,240.77 L279.51,242.90 L280.86,245.05 L282.21,247.20 L283.56,249.37 L284.91,251.54 L286.26,253.73 L287.61,255.92 L288.96,258.13 L290.32,260.34 L291.67,262.57 L293.02,264.80 L294.37,267.04 L295.72,269.30 L297.07,271.56 L298.42,273.83 L299.77,276.11 L301.12,278.40 L302.47,280.70 L303.82,283.00 L305.17,285.32 L306.52,287.65 L307.87,289.98 L309.22,292.33 L310.57,294.68 L311.92,297.04 L313.27,299.41 L314.62,301.79 L315.97,304.18 L317.32,306.58 L318.67,308.99 L320.02,311.40 L321.37,313.83 L322.72,316.26 L324.07,318.70 L325.42,321.15 L326.77,323.61 L328.12,326.08 L329.47,328.55 L330.82,331.04 L332.17,333.53 L333.52,336.03 L334.87,338.54 L336.22,341.06 L337.57,343.58 L338.92,346.12 L340.27,348.66 L341.62,351.21 L342.97,353.77 L344.32,356.33 L345.67,358.91 L347.02,361.49 L348.37,364.08 L349.72,366.68 L351.07,369.29 L352.42,371.91 L353.77,374.53 L355.12,377.16 L356.47,379.80 L357.82,382.45 L359.17,385.10 L360.52,387.77 L361.87,390.44 L363.22,393.11 L364.57,395.80 L365.92,398.49 L367.27,401.20 L368.62,403.91 L369.97,406.62 L371.32,409.35 L372.67,412.08 L374.02,414.82 L375.37,417.57 L376.72,420.32 L378.07,423.09 L379.42,425.86 L380.77,428.63 L382.12,431.42 L383.47,434.21 L384.82,437.01 L386.17,439.82 L386.93,441.40" fill="none" stroke="#808080" stroke-width="3.9" stroke-dasharray="3.3 2.27 3.3 2.27 3.3 2.27 3.3 5.04"/>
<text x="576" y="165.20" text-anchor="end">0.5Gyr</text>
<path d="M587.8,158.60H643.6" fill="none" stroke="#000000" stroke-width="3.9" stroke-dasharray="3.3 2.4 3.3 7.73"/>
<path d="M128.30,92.98 L129.65,93.01 L131.00,93.08 L132.35,93.21 L133.70,93.38 L135.05,93.61 L136.40,93.88 L137.75,94.20 L139.10,94.58 L140.45,95.00 L141.80,95.46 L143.15,95.98 L144.50,96.54 L145.85,97.15 L147.20,97.81 L148.55,98.51 L149.90,99.26 L151.25,100.05 L152.60,100.88 L153.95,101.76 L155.30,102.68 L156.65,103.64 L158.00,104.64 L159.35,105.68 L160.70,106.77 L162.05,107.89 L163.40,109.05 L164.75,110.25 L166.10,111.48 L167.45,112.75 L168.80,114.06 L170.15,115.41 L171.50,116.79 L172.85,118.20 L174.20,119.64 L175.55,121.12 L176.90,122.64 L178.25,124.18 L179.60,125.76 L180.95,127.36 L182.31,129.00 L183.66,130.67 L185.01,132.36 L186.36,134.09 L187.71,135.84 L189.06,137.62 L190.41,139.43 L191.76,141.27 L193.11,143.14 L194.46,145.03 L195.81,146.94 L197.16,148.89 L198.51,150.85 L199.86,152.85 L201.21,154.87 L202.56,156.91 L203.91,158.97 L205.26,161.06 L206.61,163.18 L207.96,165.32 L209.31,167.47 L210.66,169.66 L212.01,171.86 L213.36,174.09 L214.71,176.34 L216.06,178.61 L217.41,180.90 L218.76,183.21 L220.11,185.54 L221.46,187.90 L222.81,190.27 L224.16,192.67 L225.51,195.08 L226.86,197.51 L228.21,199.97 L229.56,202.44 L230.91,204.93 L232.26,207.44 L233.61,209.97 L234.96,212.52 L236.31,215.09 L237.66,217.67 L239.01,220.28 L240.36,222.90 L241.71,225.54 L243.06,228.20 L244.41,230.87 L245.76,233.56 L247.11,236.27 L248.46,239.00 L249.81,241.74 L251.16,244.50 L252.51,247.28 L253.86,250.07 L255.21,252.88 L256.56,255.71 L257.91,258.55 L259.26,261.41 L260.61,264.28 L261.96,267.17 L263.31,270.08 L264.66,273.00 L266.01,275.94 L267.36,278.89 L268.71,281.86 L270.06,284.84 L271.41,287.84 L272.76,290.85 L274.11,293.88 L275.46,296.92 L276.81,299.98 L278.16,303.05 L279.51,306.14 L280.86,309.24 L282.21,312.36 L283.56,315.49 L284.91,318.63 L286.26,321.79 L287.61,324.96 L288.96,328.15 L290.32,331.35 L291.67,334.56 L293.02,337.79 L294.37,341.03 L295.72,344.29 L297.07,347.56 L298.42,350.84 L299.77,354.13 L301.12,357.44 L302.47,360.76 L303.82,364.10 L305.17,367.45 L306.52,370.81 L307.87,374.18 L309.22,377.57 L310.57,380.97 L311.92,384.38 L313.27,387.81 L314.62,391.25 L315.97,394.70 L317.32,398.16 L318.67,401.64 L320.02,405.13 L321.37,408.63 L322.72,412.14 L324.07,415.66 L325.42,419.20 L326.77,422.75 L328.12,426.31 L329.47,429.89 L330.82,433.47 L332.17,437.07 L333.52,440.68 L333.79,441.40" fill="none" stroke="#000000" stroke-width="3.9" stroke-dasharray="3.3 2.4 3.3 7.73"/>
<text x="576" y="184.70" text-anchor="end">0.15Gyr</text>
<path d="M587.8,178.10H643.6" fill="none" stroke="#ff4500" stroke-width="3.9" stroke-dasharray="8.9 2.3 1.7 2.5 1.7 2.55" stroke-dashoffset="15.4"/>
<path d="M128.30,92.98 L129.65,93.04 L131.00,93.21 L132.35,93.50 L133.70,93.90 L135.05,94.42 L136.40,95.05 L137.75,95.80 L139.10,96.65 L140.45,97.62 L141.80,98.71 L143.15,99.90 L144.50,101.21 L145.85,102.62 L147.20,104.14 L148.55,105.78 L149.90,107.51 L151.25,109.36 L152.60,111.31 L153.95,113.36 L155.30,115.52 L156.65,117.78 L158.00,120.14 L159.35,122.60 L160.70,125.15 L162.05,127.81 L163.40,130.56 L164.75,133.40 L166.10,136.33 L167.45,139.36 L168.80,142.48 L170.15,145.68 L171.50,148.98 L172.85,152.35 L174.20,155.82 L175.55,159.36 L176.90,162.99 L178.25,166.70 L179.60,170.49 L180.95,174.35 L182.31,178.29 L183.66,182.31 L185.01,186.40 L186.36,190.56 L187.71,194.80 L189.06,199.10 L190.41,203.48 L191.76,207.92 L193.11,212.42 L194.46,216.99 L195.81,221.63 L197.16,226.33 L198.51,231.09 L199.86,235.91 L201.21,240.79 L202.56,245.72 L203.91,250.72 L205.26,255.77 L206.61,260.88 L207.96,266.04 L209.31,271.25 L210.66,276.52 L212.01,281.83 L213.36,287.20 L214.71,292.62 L216.06,298.08 L217.41,303.59 L218.76,309.15 L220.11,314.76 L221.46,320.41 L222.81,326.11 L224.16,331.84 L225.51,337.63 L226.86,343.45 L228.21,349.32 L229.56,355.22 L230.91,361.17 L232.26,367.16 L233.61,373.18 L234.96,379.24 L236.31,385.34 L237.66,391.48 L239.01,397.65 L240.36,403.86 L241.71,410.11 L243.06,416.38 L244.41,422.70 L245.76,429.04 L247.11,435.42 L248.37,441.40" fill="none" stroke="#ff4500" stroke-width="3.9" stroke-dasharray="8.9 2.3 1.7 2.5 1.7 2.55" stroke-dashoffset="15.4"/>
<rect x="128.3" y="523.3" width="538.7" height="418.09999999999997" fill="none" stroke="#000" stroke-width="1.75"/>
<path d="M128.3,530.05h4.5 M667.0,530.05h-4.5 M128.3,544.28h4.5 M667.0,544.28h-4.5 M128.3,572.01h4.5 M667.0,572.01h-4.5 M128.3,592.98h9 M667.0,592.98h-9 M128.3,599.74h4.5 M667.0,599.74h-4.5 M128.3,613.96h4.5 M667.0,613.96h-4.5 M128.3,641.69h4.5 M667.0,641.69h-4.5 M128.3,662.67h9 M667.0,662.67h-9 M128.3,669.42h4.5 M667.0,669.42h-4.5 M128.3,683.64h4.5 M667.0,683.64h-4.5 M128.3,711.37h4.5 M667.0,711.37h-4.5 M128.3,732.35h9 M667.0,732.35h-9 M128.3,739.10h4.5 M667.0,739.10h-4.5 M128.3,753.33h4.5 M667.0,753.33h-4.5 M128.3,781.06h4.5 M667.0,781.06h-4.5 M128.3,802.03h9 M667.0,802.03h-9 M128.3,808.79h4.5 M667.0,808.79h-4.5 M128.3,823.01h4.5 M667.0,823.01h-4.5 M128.3,850.74h4.5 M667.0,850.74h-4.5 M128.3,871.72h9 M667.0,871.72h-9 M128.3,878.47h4.5 M667.0,878.47h-4.5 M128.3,892.69h4.5 M667.0,892.69h-4.5 M128.3,920.42h4.5 M667.0,920.42h-4.5 M262.98,941.4v-9 M262.98,523.3v9 M397.65,941.4v-9 M397.65,523.3v9 M532.33,941.4v-9 M532.33,523.3v9" fill="none" stroke="#000" stroke-width="1.75"/>
<text transform="translate(116.60,530.50) scale(1,1.045)" text-anchor="end">10</text>
<text transform="translate(114.30,600.18) scale(1,1.045)" text-anchor="end">1</text>
<text transform="translate(114.30,669.87) scale(1,1.045)" text-anchor="end">0.<tspan dx="-2.3">1</tspan></text>
<text transform="translate(114.30,739.55) scale(1,1.045)" text-anchor="end">0.0<tspan dx="-2.3">1</tspan></text>
<text transform="translate(114.30,809.23) scale(1,1.045)" text-anchor="end">0.00<tspan dx="-2.3">1</tspan></text>
<text transform="translate(114.30,878.92) scale(1,1.045)" text-anchor="end">0.000<tspan dx="-2.3">1</tspan></text>
<text transform="translate(116.60,948.60) scale(1,1.045)" text-anchor="end">1e-05</text>
<text transform="translate(130.30,967.60) scale(1,1.045)" text-anchor="middle">0</text>
<text transform="translate(264.98,967.60) scale(1,1.045)" text-anchor="middle">0.5</text>
<text transform="translate(399.45,967.60) scale(1,1.045)" text-anchor="middle">1</text>
<text transform="translate(534.33,967.60) scale(1,1.045)" text-anchor="middle">1.5</text>
<text transform="translate(669.00,967.60) scale(1,1.045)" text-anchor="middle">2</text>
<text x="397.65" y="998.70" text-anchor="middle">z [kpc]</text>
<text transform="translate(17.7,732.35) rotate(-90)" text-anchor="middle">ρ/ρ<tspan font-size="15.8" dy="6.5">0</tspan></text>
<text x="576" y="548.20" text-anchor="end">lifetime >12Gyr</text>
<path d="M587.8,541.60H643.6" fill="none" stroke="#ff0000" stroke-width="3.9"/>
<path d="M128.30,592.98 L129.65,592.99 L131.00,593.02 L132.35,593.05 L133.70,593.11 L135.05,593.18 L136.40,593.27 L137.75,593.37 L139.10,593.48 L140.45,593.61 L141.80,593.75 L143.15,593.90 L144.50,594.07 L145.85,594.25 L147.20,594.43 L148.55,594.63 L149.90,594.84 L151.25,595.06 L152.60,595.29 L153.95,595.52 L155.30,595.77 L156.65,596.02 L158.00,596.28 L159.35,596.55 L160.70,596.82 L162.05,597.10 L163.40,597.39 L164.75,597.68 L166.10,597.98 L167.45,598.29 L168.80,598.60 L170.15,598.91 L171.50,599.23 L172.85,599.56 L174.20,599.89 L175.55,600.22 L176.90,600.56 L178.25,600.91 L179.60,601.25 L180.95,601.60 L182.31,601.96 L183.66,602.32 L185.01,602.68 L186.36,603.04 L187.71,603.41 L189.06,603.79 L190.41,604.16 L191.76,604.54 L193.11,604.92 L194.46,605.31 L195.81,605.70 L197.16,606.09 L198.51,606.48 L199.86,606.88 L201.21,607.28 L202.56,607.68 L203.91,608.08 L205.26,608.49 L206.61,608.90 L207.96,609.31 L209.31,609.73 L210.66,610.14 L212.01,610.56 L213.36,610.98 L214.71,611.41 L216.06,611.83 L217.41,612.26 L218.76,612.69 L220.11,613.12 L221.46,613.56 L222.81,614.00 L224.16,614.43 L225.51,614.87 L226.86,615.32 L228.21,615.76 L229.56,616.21 L230.91,616.66 L232.26,617.11 L233.61,617.56 L234.96,618.01 L236.31,618.47 L237.66,618.93 L239.01,619.39 L240.36,619.85 L241.71,620.31 L243.06,620.78 L244.41,621.24 L245.76,621.71 L247.11,622.18 L248.46,622.65 L249.81,623.12 L251.16,623.60 L252.51,624.07 L253.86,624.55 L255.21,625.03 L256.56,625.51 L257.91,625.99 L259.26,626.48 L260.61,626.96 L261.96,627.45 L263.31,627.94 L264.66,628.43 L266.01,628.92 L267.36,629.41 L268.71,629.91 L270.06,630.40 L271.41,630.90 L272.76,631.40 L274.11,631.90 L275.46,632.40 L276.81,632.90 L278.16,633.40 L279.51,633.91 L280.86,634.41 L282.21,634.92 L283.56,635.43 L284.91,635.94 L286.26,636.45 L287.61,636.96 L288.96,637.48 L290.32,637.99 L291.67,638.51 L293.02,639.03 L294.37,639.55 L295.72,640.07 L297.07,640.59 L298.42,641.11 L299.77,641.63 L301.12,642.16 L302.47,642.69 L303.82,643.21 L305.17,643.74 L306.52,644.27 L307.87,644.80 L309.22,645.33 L310.57,645.87 L311.92,646.40 L313.27,646.94 L314.62,647.47 L315.97,648.01 L317.32,648.55 L318.67,649.09 L320.02,649.63 L321.37,650.17 L322.72,650.71 L324.07,651.26 L325.42,651.80 L326.77,652.35 L328.12,652.90 L329.47,653.45 L330.82,653.99 L332.17,654.54 L333.52,655.10 L334.87,655.65 L336.22,656.20 L337.57,656.76 L338.92,657.31 L340.27,657.87 L341.62,658.43 L342.97,658.98 L344.32,659.54 L345.67,660.10 L347.02,660.67 L348.37,661.23 L349.72,661.79 L351.07,662.36 L352.42,662.92 L353.77,663.49 L355.12,664.05 L356.47,664.62 L357.82,665.19 L359.17,665.76 L360.52,666.33 L361.87,666.90 L363.22,667.48 L364.57,668.05 L365.92,668.63 L367.27,669.20 L368.62,669.78 L369.97,670.36 L371.32,670.93 L372.67,671.51 L374.02,672.09 L375.37,672.67 L376.72,673.26 L378.07,673.84 L379.42,674.42 L380.77,675.01 L382.12,675.59 L383.47,676.18 L384.82,676.76 L386.17,677.35 L387.52,677.94 L388.87,678.53 L390.22,679.12 L391.57,679.71 L392.92,680.31 L394.27,680.90 L395.62,681.49 L396.97,682.09 L398.33,682.68 L399.68,683.28 L401.03,683.88 L402.38,684.47 L403.73,685.07 L405.08,685.67 L406.43,686.27 L407.78,686.87 L409.13,687.48 L410.48,688.08 L411.83,688.68 L413.18,689.29 L414.53,689.89 L415.88,690.50 L417.23,691.10 L418.58,691.71 L419.93,692.32 L421.28,692.93 L422.63,693.54 L423.98,694.15 L425.33,694.76 L426.68,695.37 L428.03,695.99 L429.38,696.60 L430.73,697.21 L432.08,697.83 L433.43,698.45 L434.78,699.06 L436.13,699.68 L437.48,700.30 L438.83,700.92 L440.18,701.54 L441.53,702.16 L442.88,702.78 L444.23,703.40 L445.58,704.02 L446.93,704.65 L448.28,705.27 L449.63,705.90 L450.98,706.52 L452.33,707.15 L453.68,707.77 L455.03,708.40 L456.38,709.03 L457.73,709.66 L459.08,710.29 L460.43,710.92 L461.78,711.55 L463.13,712.18 L464.48,712.82 L465.83,713.45 L467.18,714.08 L468.53,714.72 L469.88,715.35 L471.23,715.99 L472.58,716.63 L473.93,717.26 L475.28,717.90 L476.63,718.54 L477.98,719.18 L479.33,719.82 L480.68,720.46 L482.03,721.10 L483.38,721.75 L484.73,722.39 L486.08,723.03 L487.43,723.68 L488.78,724.32 L490.13,724.97 L491.48,725.61 L492.83,726.26 L494.18,726.91 L495.53,727.56 L496.88,728.20 L498.23,728.85 L499.58,729.50 L500.93,730.15 L502.28,730.81 L503.63,731.46 L504.98,732.11 L506.34,732.76 L507.69,733.42 L509.04,734.07 L510.39,734.73 L511.74,735.38 L513.09,736.04 L514.44,736.70 L515.79,737.36 L517.14,738.01 L518.49,738.67 L519.84,739.33 L521.19,739.99 L522.54,740.65 L523.89,741.32 L525.24,741.98 L526.59,742.64 L527.94,743.30 L529.29,743.97 L530.64,744.63 L531.99,745.30 L533.34,745.96 L534.69,746.63 L536.04,747.30 L537.39,747.96 L538.74,748.63 L540.09,749.30 L541.44,749.97 L542.79,750.64 L544.14,751.31 L545.49,751.98 L546.84,752.65 L548.19,753.33 L549.54,754.00 L550.89,754.67 L552.24,755.35 L553.59,756.02 L554.94,756.70 L556.29,757.37 L557.64,758.05 L558.99,758.73 L560.34,759.41 L561.69,760.08 L563.04,760.76 L564.39,761.44 L565.74,762.12 L567.09,762.80 L568.44,763.48 L569.79,764.17 L571.14,764.85 L572.49,765.53 L573.84,766.21 L575.19,766.90 L576.54,767.58 L577.89,768.27 L579.24,768.95 L580.59,769.64 L581.94,770.33 L583.29,771.01 L584.64,771.70 L585.99,772.39 L587.34,773.08 L588.69,773.77 L590.04,774.46 L591.39,775.15 L592.74,775.84 L594.09,776.53 L595.44,777.22 L596.79,777.92 L598.14,778.61 L599.49,779.30 L600.84,780.00 L602.19,780.69 L603.54,781.39 L604.89,782.08 L606.24,782.78 L607.59,783.48 L608.94,784.18 L610.29,784.87 L611.64,785.57 L612.99,786.27 L614.35,786.97 L615.70,787.67 L617.05,788.37 L618.40,789.07 L619.75,789.78 L621.10,790.48 L622.45,791.18 L623.80,791.88 L625.15,792.59 L626.50,793.29 L627.85,794.00 L629.20,794.70 L630.55,795.41 L631.90,796.12 L633.25,796.82 L634.60,797.53 L635.95,798.24 L637.30,798.95 L638.65,799.66 L640.00,800.37 L641.35,801.08 L642.70,801.79 L644.05,802.50 L645.40,803.21 L646.75,803.92 L648.10,804.64 L649.45,805.35 L650.80,806.06 L652.15,806.78 L653.50,807.49 L654.85,808.21 L656.20,808.92 L657.55,809.64 L658.90,810.35 L660.25,811.07 L661.60,811.79 L662.95,812.51 L664.30,813.23 L665.65,813.95 L667.00,814.67" fill="none" stroke="#ff0000" stroke-width="3.9"/>
<text x="576" y="567.70" text-anchor="end">11.2Gyr</text>
<path d="M587.8,561.10H643.6" fill="none" stroke="#00ff00" stroke-width="3.9" stroke-dasharray="6.2 2.12"/>
<path d="M128.30,592.98 L129.65,592.99 L131.00,593.02 L132.35,593.06 L133.70,593.12 L135.05,593.20 L136.40,593.29 L137.75,593.40 L139.10,593.52 L140.45,593.66 L141.80,593.81 L143.15,593.97 L144.50,594.15 L145.85,594.34 L147.20,594.54 L148.55,594.76 L149.90,594.98 L151.25,595.21 L152.60,595.45 L153.95,595.70 L155.30,595.96 L156.65,596.23 L158.00,596.51 L159.35,596.79 L160.70,597.08 L162.05,597.38 L163.40,597.68 L164.75,597.99 L166.10,598.30 L167.45,598.62 L168.80,598.95 L170.15,599.28 L171.50,599.62 L172.85,599.96 L174.20,600.31 L175.55,600.66 L176.90,601.01 L178.25,601.37 L179.60,601.73 L180.95,602.10 L182.31,602.47 L183.66,602.85 L185.01,603.22 L186.36,603.61 L187.71,603.99 L189.06,604.38 L190.41,604.77 L191.76,605.17 L193.11,605.57 L194.46,605.97 L195.81,606.37 L197.16,606.78 L198.51,607.19 L199.86,607.60 L201.21,608.02 L202.56,608.44 L203.91,608.86 L205.26,609.28 L206.61,609.71 L207.96,610.14 L209.31,610.57 L210.66,611.00 L212.01,611.44 L213.36,611.87 L214.71,612.31 L216.06,612.76 L217.41,613.20 L218.76,613.65 L220.11,614.10 L221.46,614.55 L222.81,615.00 L224.16,615.46 L225.51,615.92 L226.86,616.38 L228.21,616.84 L229.56,617.30 L230.91,617.77 L232.26,618.23 L233.61,618.70 L234.96,619.17 L236.31,619.65 L237.66,620.12 L239.01,620.60 L240.36,621.08 L241.71,621.56 L243.06,622.04 L244.41,622.52 L245.76,623.01 L247.11,623.49 L248.46,623.98 L249.81,624.47 L251.16,624.96 L252.51,625.46 L253.86,625.95 L255.21,626.45 L256.56,626.95 L257.91,627.44 L259.26,627.95 L260.61,628.45 L261.96,628.95 L263.31,629.46 L264.66,629.97 L266.01,630.47 L267.36,630.98 L268.71,631.50 L270.06,632.01 L271.41,632.52 L272.76,633.04 L274.11,633.56 L275.46,634.07 L276.81,634.59 L278.16,635.11 L279.51,635.64 L280.86,636.16 L282.21,636.69 L283.56,637.21 L284.91,637.74 L286.26,638.27 L287.61,638.80 L288.96,639.33 L290.32,639.87 L291.67,640.40 L293.02,640.94 L294.37,641.47 L295.72,642.01 L297.07,642.55 L298.42,643.09 L299.77,643.63 L301.12,644.17 L302.47,644.72 L303.82,645.26 L305.17,645.81 L306.52,646.36 L307.87,646.91 L309.22,647.46 L310.57,648.01 L311.92,648.56 L313.27,649.11 L314.62,649.67 L315.97,650.22 L317.32,650.78 L318.67,651.34 L320.02,651.90 L321.37,652.46 L322.72,653.02 L324.07,653.58 L325.42,654.14 L326.77,654.71 L328.12,655.27 L329.47,655.84 L330.82,656.41 L332.17,656.98 L333.52,657.55 L334.87,658.12 L336.22,658.69 L337.57,659.26 L338.92,659.84 L340.27,660.41 L341.62,660.99 L342.97,661.56 L344.32,662.14 L345.67,662.72 L347.02,663.30 L348.37,663.88 L349.72,664.46 L351.07,665.05 L352.42,665.63 L353.77,666.21 L355.12,666.80 L356.47,667.39 L357.82,667.97 L359.17,668.56 L360.52,669.15 L361.87,669.74 L363.22,670.33 L364.57,670.93 L365.92,671.52 L367.27,672.11 L368.62,672.71 L369.97,673.31 L371.32,673.90 L372.67,674.50 L374.02,675.10 L375.37,675.70 L376.72,676.30 L378.07,676.90 L379.42,677.50 L380.77,678.11 L382.12,678.71 L383.47,679.32 L384.82,679.92 L386.17,680.53 L387.52,681.14 L388.87,681.75 L390.22,682.36 L391.57,682.97 L392.92,683.58 L394.27,684.19 L395.62,684.80 L396.97,685.42 L398.33,686.03 L399.68,686.65 L401.03,687.26 L402.38,687.88 L403.73,688.50 L405.08,689.12 L406.43,689.73 L407.78,690.36 L409.13,690.98 L410.48,691.60 L411.83,692.22 L413.18,692.84 L414.53,693.47 L415.88,694.09 L417.23,694.72 L418.58,695.35 L419.93,695.97 L421.28,696.60 L422.63,697.23 L423.98,697.86 L425.33,698.49 L426.68,699.12 L428.03,699.76 L429.38,700.39 L430.73,701.02 L432.08,701.66 L433.43,702.29 L434.78,702.93 L436.13,703.57 L437.48,704.20 L438.83,704.84 L440.18,705.48 L441.53,706.12 L442.88,706.76 L444.23,707.40 L445.58,708.05 L446.93,708.69 L448.28,709.33 L449.63,709.98 L450.98,710.62 L452.33,711.27 L453.68,711.91 L455.03,712.56 L456.38,713.21 L457.73,713.86 L459.08,714.51 L460.43,715.16 L461.78,715.81 L463.13,716.46 L464.48,717.11 L465.83,717.77 L467.18,718.42 L468.53,719.07 L469.88,719.73 L471.23,720.38 L472.58,721.04 L473.93,721.70 L475.28,722.36 L476.63,723.01 L477.98,723.67 L479.33,724.33 L480.68,724.99 L482.03,725.66 L483.38,726.32 L484.73,726.98 L486.08,727.64 L487.43,728.31 L488.78,728.97 L490.13,729.64 L491.48,730.30 L492.83,730.97 L494.18,731.64 L495.53,732.31 L496.88,732.98 L498.23,733.65 L499.58,734.32 L500.93,734.99 L502.28,735.66 L503.63,736.33 L504.98,737.00 L506.34,737.68 L507.69,738.35 L509.04,739.02 L510.39,739.70 L511.74,740.38 L513.09,741.05 L514.44,741.73 L515.79,742.41 L517.14,743.09 L518.49,743.76 L519.84,744.44 L521.19,745.12 L522.54,745.81 L523.89,746.49 L525.24,747.17 L526.59,747.85 L527.94,748.54 L529.29,749.22 L530.64,749.91 L531.99,750.59 L533.34,751.28 L534.69,751.96 L536.04,752.65 L537.39,753.34 L538.74,754.03 L540.09,754.72 L541.44,755.41 L542.79,756.10 L544.14,756.79 L545.49,757.48 L546.84,758.17 L548.19,758.86 L549.54,759.56 L550.89,760.25 L552.24,760.94 L553.59,761.64 L554.94,762.34 L556.29,763.03 L557.64,763.73 L558.99,764.43 L560.34,765.12 L561.69,765.82 L563.04,766.52 L564.39,767.22 L565.74,767.92 L567.09,768.62 L568.44,769.32 L569.79,770.03 L571.14,770.73 L572.49,771.43 L573.84,772.14 L575.19,772.84 L576.54,773.55 L577.89,774.25 L579.24,774.96 L580.59,775.66 L581.94,776.37 L583.29,777.08 L584.64,777.79 L585.99,778.50 L587.34,779.21 L588.69,779.92 L590.04,780.63 L591.39,781.34 L592.74,782.05 L594.09,782.76 L595.44,783.47 L596.79,784.19 L598.14,784.90 L599.49,785.62 L600.84,786.33 L602.19,787.05 L603.54,787.76 L604.89,788.48 L606.24,789.20 L607.59,789.92 L608.94,790.63 L610.29,791.35 L611.64,792.07 L612.99,792.79 L614.35,793.51 L615.70,794.23 L617.05,794.96 L618.40,795.68 L619.75,796.40 L621.10,797.12 L622.45,797.85 L623.80,798.57 L625.15,799.30 L626.50,800.02 L627.85,800.75 L629.20,801.47 L630.55,802.20 L631.90,802.93 L633.25,803.66 L634.60,804.38 L635.95,805.11 L637.30,805.84 L638.65,806.57 L640.00,807.30 L641.35,808.03 L642.70,808.77 L644.05,809.50 L645.40,810.23 L646.75,810.96 L648.10,811.70 L649.45,812.43 L650.80,813.17 L652.15,813.90 L653.50,814.64 L654.85,815.37 L656.20,816.11 L657.55,816.85 L658.90,817.58 L660.25,818.32 L661.60,819.06 L662.95,819.80 L664.30,820.54 L665.65,821.28 L667.00,822.02" fill="none" stroke="#00ff00" stroke-width="3.9" stroke-dasharray="6.2 2.12"/>
<text x="576" y="587.20" text-anchor="end">10.6Gyr</text>
<path d="M587.8,580.60H643.6" fill="none" stroke="#0000ff" stroke-width="3.9" stroke-dasharray="3.35 3.63"/>
<path d="M128.30,592.98 L129.65,592.99 L131.00,593.02 L132.35,593.08 L133.70,593.15 L135.05,593.24 L136.40,593.35 L137.75,593.47 L139.10,593.61 L140.45,593.77 L141.80,593.95 L143.15,594.13 L144.50,594.33 L145.85,594.55 L147.20,594.77 L148.55,595.01 L149.90,595.25 L151.25,595.50 L152.60,595.77 L153.95,596.04 L155.30,596.32 L156.65,596.61 L158.00,596.90 L159.35,597.20 L160.70,597.51 L162.05,597.82 L163.40,598.14 L164.75,598.47 L166.10,598.80 L167.45,599.14 L168.80,599.48 L170.15,599.82 L171.50,600.17 L172.85,600.53 L174.20,600.89 L175.55,601.25 L176.90,601.62 L178.25,601.99 L179.60,602.37 L180.95,602.74 L182.31,603.13 L183.66,603.51 L185.01,603.90 L186.36,604.30 L187.71,604.69 L189.06,605.09 L190.41,605.49 L191.76,605.90 L193.11,606.31 L194.46,606.72 L195.81,607.13 L197.16,607.55 L198.51,607.97 L199.86,608.39 L201.21,608.82 L202.56,609.25 L203.91,609.68 L205.26,610.11 L206.61,610.55 L207.96,610.99 L209.31,611.43 L210.66,611.87 L212.01,612.32 L213.36,612.76 L214.71,613.21 L216.06,613.67 L217.41,614.12 L218.76,614.58 L220.11,615.04 L221.46,615.50 L222.81,615.96 L224.16,616.42 L225.51,616.89 L226.86,617.36 L228.21,617.83 L229.56,618.31 L230.91,618.78 L232.26,619.26 L233.61,619.74 L234.96,620.22 L236.31,620.70 L237.66,621.18 L239.01,621.67 L240.36,622.16 L241.71,622.65 L243.06,623.14 L244.41,623.63 L245.76,624.13 L247.11,624.63 L248.46,625.13 L249.81,625.63 L251.16,626.13 L252.51,626.63 L253.86,627.14 L255.21,627.65 L256.56,628.15 L257.91,628.66 L259.26,629.18 L260.61,629.69 L261.96,630.20 L263.31,630.72 L264.66,631.24 L266.01,631.76 L267.36,632.28 L268.71,632.80 L270.06,633.33 L271.41,633.85 L272.76,634.38 L274.11,634.91 L275.46,635.44 L276.81,635.97 L278.16,636.50 L279.51,637.04 L280.86,637.57 L282.21,638.11 L283.56,638.65 L284.91,639.19 L286.26,639.73 L287.61,640.28 L288.96,640.82 L290.32,641.36 L291.67,641.91 L293.02,642.46 L294.37,643.01 L295.72,643.56 L297.07,644.11 L298.42,644.67 L299.77,645.22 L301.12,645.78 L302.47,646.33 L303.82,646.89 L305.17,647.45 L306.52,648.01 L307.87,648.58 L309.22,649.14 L310.57,649.70 L311.92,650.27 L313.27,650.84 L314.62,651.41 L315.97,651.98 L317.32,652.55 L318.67,653.12 L320.02,653.69 L321.37,654.27 L322.72,654.84 L324.07,655.42 L325.42,656.00 L326.77,656.57 L328.12,657.15 L329.47,657.74 L330.82,658.32 L332.17,658.90 L333.52,659.49 L334.87,660.07 L336.22,660.66 L337.57,661.25 L338.92,661.84 L340.27,662.43 L341.62,663.02 L342.97,663.61 L344.32,664.20 L345.67,664.80 L347.02,665.39 L348.37,665.99 L349.72,666.59 L351.07,667.19 L352.42,667.79 L353.77,668.39 L355.12,668.99 L356.47,669.59 L357.82,670.20 L359.17,670.80 L360.52,671.41 L361.87,672.02 L363.22,672.62 L364.57,673.23 L365.92,673.84 L367.27,674.45 L368.62,675.07 L369.97,675.68 L371.32,676.29 L372.67,676.91 L374.02,677.52 L375.37,678.14 L376.72,678.76 L378.07,679.38 L379.42,680.00 L380.77,680.62 L382.12,681.24 L383.47,681.86 L384.82,682.49 L386.17,683.11 L387.52,683.74 L388.87,684.36 L390.22,684.99 L391.57,685.62 L392.92,686.25 L394.27,686.88 L395.62,687.51 L396.97,688.14 L398.33,688.78 L399.68,689.41 L401.03,690.05 L402.38,690.68 L403.73,691.32 L405.08,691.96 L406.43,692.59 L407.78,693.23 L409.13,693.87 L410.48,694.52 L411.83,695.16 L413.18,695.80 L414.53,696.44 L415.88,697.09 L417.23,697.73 L418.58,698.38 L419.93,699.03 L421.28,699.68 L422.63,700.33 L423.98,700.98 L425.33,701.63 L426.68,702.28 L428.03,702.93 L429.38,703.58 L430.73,704.24 L432.08,704.89 L433.43,705.55 L434.78,706.20 L436.13,706.86 L437.48,707.52 L438.83,708.18 L440.18,708.84 L441.53,709.50 L442.88,710.16 L444.23,710.82 L445.58,711.49 L446.93,712.15 L448.28,712.82 L449.63,713.48 L450.98,714.15 L452.33,714.81 L453.68,715.48 L455.03,716.15 L456.38,716.82 L457.73,717.49 L459.08,718.16 L460.43,718.83 L461.78,719.51 L463.13,720.18 L464.48,720.85 L465.83,721.53 L467.18,722.21 L468.53,722.88 L469.88,723.56 L471.23,724.24 L472.58,724.92 L473.93,725.60 L475.28,726.28 L476.63,726.96 L477.98,727.64 L479.33,728.32 L480.68,729.01 L482.03,729.69 L483.38,730.37 L484.73,731.06 L486.08,731.75 L487.43,732.43 L488.78,733.12 L490.13,733.81 L491.48,734.50 L492.83,735.19 L494.18,735.88 L495.53,736.57 L496.88,737.26 L498.23,737.96 L499.58,738.65 L500.93,739.35 L502.28,740.04 L503.63,740.74 L504.98,741.43 L506.34,742.13 L507.69,742.83 L509.04,743.53 L510.39,744.23 L511.74,744.93 L513.09,745.63 L514.44,746.33 L515.79,747.03 L517.14,747.74 L518.49,748.44 L519.84,749.14 L521.19,749.85 L522.54,750.55 L523.89,751.26 L525.24,751.97 L526.59,752.68 L527.94,753.38 L529.29,754.09 L530.64,754.80 L531.99,755.51 L533.34,756.22 L534.69,756.94 L536.04,757.65 L537.39,758.36 L538.74,759.08 L540.09,759.79 L541.44,760.51 L542.79,761.22 L544.14,761.94 L545.49,762.66 L546.84,763.37 L548.19,764.09 L549.54,764.81 L550.89,765.53 L552.24,766.25 L553.59,766.97 L554.94,767.70 L556.29,768.42 L557.64,769.14 L558.99,769.87 L560.34,770.59 L561.69,771.31 L563.04,772.04 L564.39,772.77 L565.74,773.49 L567.09,774.22 L568.44,774.95 L569.79,775.68 L571.14,776.41 L572.49,777.14 L573.84,777.87 L575.19,778.60 L576.54,779.33 L577.89,780.07 L579.24,780.80 L580.59,781.53 L581.94,782.27 L583.29,783.00 L584.64,783.74 L585.99,784.48 L587.34,785.21 L588.69,785.95 L590.04,786.69 L591.39,787.43 L592.74,788.17 L594.09,788.91 L595.44,789.65 L596.79,790.39 L598.14,791.13 L599.49,791.87 L600.84,792.62 L602.19,793.36 L603.54,794.11 L604.89,794.85 L606.24,795.60 L607.59,796.34 L608.94,797.09 L610.29,797.84 L611.64,798.59 L612.99,799.33 L614.35,800.08 L615.70,800.83 L617.05,801.58 L618.40,802.34 L619.75,803.09 L621.10,803.84 L622.45,804.59 L623.80,805.35 L625.15,806.10 L626.50,806.85 L627.85,807.61 L629.20,808.36 L630.55,809.12 L631.90,809.88 L633.25,810.64 L634.60,811.39 L635.95,812.15 L637.30,812.91 L638.65,813.67 L640.00,814.43 L641.35,815.19 L642.70,815.95 L644.05,816.72 L645.40,817.48 L646.75,818.24 L648.10,819.01 L649.45,819.77 L650.80,820.53 L652.15,821.30 L653.50,822.07 L654.85,822.83 L656.20,823.60 L657.55,824.37 L658.90,825.14 L660.25,825.90 L661.60,826.67 L662.95,827.44 L664.30,828.21 L665.65,828.99 L667.00,829.76" fill="none" stroke="#0000ff" stroke-width="3.9" stroke-dasharray="3.35 3.63"/>
<text x="576" y="606.70" text-anchor="end">7.2Gyr</text>
<path d="M587.8,600.10H643.6" fill="none" stroke="#ff00ff" stroke-width="3.9" stroke-dasharray="1.8 1.69"/>
<path d="M128.30,592.98 L129.65,593.01 L131.00,593.07 L132.35,593.18 L133.70,593.32 L135.05,593.49 L136.40,593.70 L137.75,593.92 L139.10,594.16 L140.45,594.43 L141.80,594.70 L143.15,595.00 L144.50,595.30 L145.85,595.62 L147.20,595.95 L148.55,596.28 L149.90,596.63 L151.25,596.99 L152.60,597.35 L153.95,597.72 L155.30,598.10 L156.65,598.49 L158.00,598.88 L159.35,599.28 L160.70,599.68 L162.05,600.10 L163.40,600.51 L164.75,600.94 L166.10,601.36 L167.45,601.80 L168.80,602.24 L170.15,602.68 L171.50,603.13 L172.85,603.58 L174.20,604.04 L175.55,604.50 L176.90,604.97 L178.25,605.44 L179.60,605.92 L180.95,606.40 L182.31,606.88 L183.66,607.37 L185.01,607.86 L186.36,608.36 L187.71,608.86 L189.06,609.36 L190.41,609.87 L191.76,610.38 L193.11,610.89 L194.46,611.41 L195.81,611.93 L197.16,612.46 L198.51,612.98 L199.86,613.51 L201.21,614.05 L202.56,614.59 L203.91,615.13 L205.26,615.67 L206.61,616.22 L207.96,616.77 L209.31,617.32 L210.66,617.88 L212.01,618.43 L213.36,619.00 L214.71,619.56 L216.06,620.13 L217.41,620.70 L218.76,621.27 L220.11,621.85 L221.46,622.42 L222.81,623.01 L224.16,623.59 L225.51,624.18 L226.86,624.76 L228.21,625.36 L229.56,625.95 L230.91,626.55 L232.26,627.14 L233.61,627.75 L234.96,628.35 L236.31,628.96 L237.66,629.56 L239.01,630.18 L240.36,630.79 L241.71,631.41 L243.06,632.02 L244.41,632.64 L245.76,633.27 L247.11,633.89 L248.46,634.52 L249.81,635.15 L251.16,635.78 L252.51,636.41 L253.86,637.05 L255.21,637.69 L256.56,638.33 L257.91,638.97 L259.26,639.62 L260.61,640.26 L261.96,640.91 L263.31,641.56 L264.66,642.22 L266.01,642.87 L267.36,643.53 L268.71,644.19 L270.06,644.85 L271.41,645.51 L272.76,646.18 L274.11,646.84 L275.46,647.51 L276.81,648.18 L278.16,648.86 L279.51,649.53 L280.86,650.21 L282.21,650.89 L283.56,651.57 L284.91,652.25 L286.26,652.93 L287.61,653.62 L288.96,654.31 L290.32,655.00 L291.67,655.69 L293.02,656.38 L294.37,657.08 L295.72,657.78 L297.07,658.47 L298.42,659.17 L299.77,659.88 L301.12,660.58 L302.47,661.29 L303.82,661.99 L305.17,662.70 L306.52,663.41 L307.87,664.13 L309.22,664.84 L310.57,665.56 L311.92,666.27 L313.27,666.99 L314.62,667.71 L315.97,668.44 L317.32,669.16 L318.67,669.89 L320.02,670.61 L321.37,671.34 L322.72,672.07 L324.07,672.81 L325.42,673.54 L326.77,674.28 L328.12,675.01 L329.47,675.75 L330.82,676.49 L332.17,677.23 L333.52,677.98 L334.87,678.72 L336.22,679.47 L337.57,680.22 L338.92,680.97 L340.27,681.72 L341.62,682.47 L342.97,683.22 L344.32,683.98 L345.67,684.74 L347.02,685.49 L348.37,686.25 L349.72,687.02 L351.07,687.78 L352.42,688.54 L353.77,689.31 L355.12,690.08 L356.47,690.84 L357.82,691.61 L359.17,692.39 L360.52,693.16 L361.87,693.93 L363.22,694.71 L364.57,695.49 L365.92,696.26 L367.27,697.04 L368.62,697.83 L369.97,698.61 L371.32,699.39 L372.67,700.18 L374.02,700.96 L375.37,701.75 L376.72,702.54 L378.07,703.33 L379.42,704.12 L380.77,704.92 L382.12,705.71 L383.47,706.51 L384.82,707.31 L386.17,708.11 L387.52,708.91 L388.87,709.71 L390.22,710.51 L391.57,711.31 L392.92,712.12 L394.27,712.93 L395.62,713.73 L396.97,714.54 L398.33,715.35 L399.68,716.17 L401.03,716.98 L402.38,717.79 L403.73,718.61 L405.08,719.43 L406.43,720.24 L407.78,721.06 L409.13,721.88 L410.48,722.71 L411.83,723.53 L413.18,724.35 L414.53,725.18 L415.88,726.01 L417.23,726.83 L418.58,727.66 L419.93,728.49 L421.28,729.32 L422.63,730.16 L423.98,730.99 L425.33,731.83 L426.68,732.66 L428.03,733.50 L429.38,734.34 L430.73,735.18 L432.08,736.02 L433.43,736.86 L434.78,737.71 L436.13,738.55 L437.48,739.40 L438.83,740.24 L440.18,741.09 L441.53,741.94 L442.88,742.79 L444.23,743.64 L445.58,744.50 L446.93,745.35 L448.28,746.20 L449.63,747.06 L450.98,747.92 L452.33,748.78 L453.68,749.64 L455.03,750.50 L456.38,751.36 L457.73,752.22 L459.08,753.09 L460.43,753.95 L461.78,754.82 L463.13,755.68 L464.48,756.55 L465.83,757.42 L467.18,758.29 L468.53,759.16 L469.88,760.04 L471.23,760.91 L472.58,761.79 L473.93,762.66 L475.28,763.54 L476.63,764.42 L477.98,765.30 L479.33,766.18 L480.68,767.06 L482.03,767.94 L483.38,768.82 L484.73,769.71 L486.08,770.59 L487.43,771.48 L488.78,772.37 L490.13,773.26 L491.48,774.15 L492.83,775.04 L494.18,775.93 L495.53,776.82 L496.88,777.72 L498.23,778.61 L499.58,779.51 L500.93,780.41 L502.28,781.30 L503.63,782.20 L504.98,783.10 L506.34,784.00 L507.69,784.91 L509.04,785.81 L510.39,786.71 L511.74,787.62 L513.09,788.52 L514.44,789.43 L515.79,790.34 L517.14,791.25 L518.49,792.16 L519.84,793.07 L521.19,793.98 L522.54,794.90 L523.89,795.81 L525.24,796.72 L526.59,797.64 L527.94,798.56 L529.29,799.48 L530.64,800.39 L531.99,801.31 L533.34,802.23 L534.69,803.16 L536.04,804.08 L537.39,805.00 L538.74,805.93 L540.09,806.85 L541.44,807.78 L542.79,808.71 L544.14,809.64 L545.49,810.57 L546.84,811.50 L548.19,812.43 L549.54,813.36 L550.89,814.29 L552.24,815.23 L553.59,816.16 L554.94,817.10 L556.29,818.04 L557.64,818.97 L558.99,819.91 L560.34,820.85 L561.69,821.79 L563.04,822.73 L564.39,823.68 L565.74,824.62 L567.09,825.56 L568.44,826.51 L569.79,827.46 L571.14,828.40 L572.49,829.35 L573.84,830.30 L575.19,831.25 L576.54,832.20 L577.89,833.15 L579.24,834.10 L580.59,835.06 L581.94,836.01 L583.29,836.97 L584.64,837.92 L585.99,838.88 L587.34,839.84 L588.69,840.80 L590.04,841.76 L591.39,842.72 L592.74,843.68 L594.09,844.64 L595.44,845.60 L596.79,846.57 L598.14,847.53 L599.49,848.50 L600.84,849.46 L602.19,850.43 L603.54,851.40 L604.89,852.37 L606.24,853.34 L607.59,854.31 L608.94,855.28 L610.29,856.26 L611.64,857.23 L612.99,858.20 L614.35,859.18 L615.70,860.15 L617.05,861.13 L618.40,862.11 L619.75,863.09 L621.10,864.07 L622.45,865.05 L623.80,866.03 L625.15,867.01 L626.50,867.99 L627.85,868.98 L629.20,869.96 L630.55,870.95 L631.90,871.93 L633.25,872.92 L634.60,873.91 L635.95,874.90 L637.30,875.89 L638.65,876.88 L640.00,877.87 L641.35,878.86 L642.70,879.85 L644.05,880.85 L645.40,881.84 L646.75,882.83 L648.10,883.83 L649.45,884.83 L650.80,885.83 L652.15,886.82 L653.50,887.82 L654.85,888.82 L656.20,889.82 L657.55,890.83 L658.90,891.83 L660.25,892.83 L661.60,893.84 L662.95,894.84 L664.30,895.85 L665.65,896.85 L667.00,897.86" fill="none" stroke="#ff00ff" stroke-width="3.9" stroke-dasharray="1.8 1.69"/>
<text x="576" y="626.20" text-anchor="end">2.8Gyr</text>
<path d="M587.8,619.60H643.6" fill="none" stroke="#00ffff" stroke-width="3.9" stroke-dasharray="8.96 2.3 1.8 2.3"/>
<path d="M128.30,592.98 L129.65,593.01 L131.00,593.08 L132.35,593.19 L133.70,593.35 L135.05,593.55 L136.40,593.80 L137.75,594.08 L139.10,594.41 L140.45,594.77 L141.80,595.17 L143.15,595.60 L144.50,596.06 L145.85,596.56 L147.20,597.08 L148.55,597.62 L149.90,598.20 L151.25,598.79 L152.60,599.41 L153.95,600.05 L155.30,600.71 L156.65,601.39 L158.00,602.09 L159.35,602.80 L160.70,603.53 L162.05,604.28 L163.40,605.04 L164.75,605.82 L166.10,606.61 L167.45,607.41 L168.80,608.22 L170.15,609.05 L171.50,609.89 L172.85,610.74 L174.20,611.60 L175.55,612.47 L176.90,613.35 L178.25,614.24 L179.60,615.14 L180.95,616.05 L182.31,616.97 L183.66,617.90 L185.01,618.83 L186.36,619.78 L187.71,620.73 L189.06,621.69 L190.41,622.66 L191.76,623.63 L193.11,624.62 L194.46,625.61 L195.81,626.60 L197.16,627.60 L198.51,628.61 L199.86,629.63 L201.21,630.65 L202.56,631.68 L203.91,632.72 L205.26,633.76 L206.61,634.81 L207.96,635.86 L209.31,636.92 L210.66,637.98 L212.01,639.05 L213.36,640.13 L214.71,641.21 L216.06,642.30 L217.41,643.39 L218.76,644.49 L220.11,645.59 L221.46,646.70 L222.81,647.81 L224.16,648.93 L225.51,650.05 L226.86,651.17 L228.21,652.30 L229.56,653.44 L230.91,654.58 L232.26,655.73 L233.61,656.88 L234.96,658.03 L236.31,659.19 L237.66,660.35 L239.01,661.52 L240.36,662.69 L241.71,663.86 L243.06,665.04 L244.41,666.23 L245.76,667.41 L247.11,668.60 L248.46,669.80 L249.81,671.00 L251.16,672.20 L252.51,673.41 L253.86,674.62 L255.21,675.84 L256.56,677.05 L257.91,678.28 L259.26,679.50 L260.61,680.73 L261.96,681.97 L263.31,683.20 L264.66,684.44 L266.01,685.69 L267.36,686.93 L268.71,688.19 L270.06,689.44 L271.41,690.70 L272.76,691.96 L274.11,693.22 L275.46,694.49 L276.81,695.76 L278.16,697.04 L279.51,698.31 L280.86,699.60 L282.21,700.88 L283.56,702.17 L284.91,703.46 L286.26,704.75 L287.61,706.05 L288.96,707.35 L290.32,708.65 L291.67,709.96 L293.02,711.27 L294.37,712.58 L295.72,713.89 L297.07,715.21 L298.42,716.53 L299.77,717.86 L301.12,719.18 L302.47,720.51 L303.82,721.85 L305.17,723.18 L306.52,724.52 L307.87,725.86 L309.22,727.21 L310.57,728.55 L311.92,729.90 L313.27,731.25 L314.62,732.61 L315.97,733.97 L317.32,735.33 L318.67,736.69 L320.02,738.06 L321.37,739.43 L322.72,740.80 L324.07,742.17 L325.42,743.55 L326.77,744.93 L328.12,746.31 L329.47,747.69 L330.82,749.08 L332.17,750.47 L333.52,751.86 L334.87,753.26 L336.22,754.65 L337.57,756.05 L338.92,757.46 L340.27,758.86 L341.62,760.27 L342.97,761.68 L344.32,763.09 L345.67,764.50 L347.02,765.92 L348.37,767.34 L349.72,768.76 L351.07,770.19 L352.42,771.61 L353.77,773.04 L355.12,774.47 L356.47,775.90 L357.82,777.34 L359.17,778.78 L360.52,780.22 L361.87,781.66 L363.22,783.11 L364.57,784.55 L365.92,786.00 L367.27,787.46 L368.62,788.91 L369.97,790.37 L371.32,791.82 L372.67,793.29 L374.02,794.75 L375.37,796.21 L376.72,797.68 L378.07,799.15 L379.42,800.62 L380.77,802.10 L382.12,803.57 L383.47,805.05 L384.82,806.53 L386.17,808.01 L387.52,809.50 L388.87,810.98 L390.22,812.47 L391.57,813.96 L392.92,815.46 L394.27,816.95 L395.62,818.45 L396.97,819.95 L398.33,821.45 L399.68,822.95 L401.03,824.46 L402.38,825.96 L403.73,827.47 L405.08,828.99 L406.43,830.50 L407.78,832.01 L409.13,833.53 L410.48,835.05 L411.83,836.57 L413.18,838.10 L414.53,839.62 L415.88,841.15 L417.23,842.68 L418.58,844.21 L419.93,845.74 L421.28,847.28 L422.63,848.81 L423.98,850.35 L425.33,851.89 L426.68,853.44 L428.03,854.98 L429.38,856.53 L430.73,858.08 L432.08,859.63 L433.43,861.18 L434.78,862.73 L436.13,864.29 L437.48,865.85 L438.83,867.40 L440.18,868.97 L441.53,870.53 L442.88,872.09 L444.23,873.66 L445.58,875.23 L446.93,876.80 L448.28,878.37 L449.63,879.95 L450.98,881.52 L452.33,883.10 L453.68,884.68 L455.03,886.26 L456.38,887.84 L457.73,889.43 L459.08,891.01 L460.43,892.60 L461.78,894.19 L463.13,895.78 L464.48,897.38 L465.83,898.97 L467.18,900.57 L468.53,902.17 L469.88,903.77 L471.23,905.37 L472.58,906.98 L473.93,908.58 L475.28,910.19 L476.63,911.80 L477.98,913.41 L479.33,915.02 L480.68,916.63 L482.03,918.25 L483.38,919.87 L484.73,921.49 L486.08,923.11 L487.43,924.73 L488.78,926.35 L490.13,927.98 L491.48,929.61 L492.83,931.23 L494.18,932.87 L495.53,934.50 L496.88,936.13 L498.23,937.77 L499.58,939.40 L500.93,941.04 L501.23,941.40" fill="none" stroke="#00ffff" stroke-width="3.9" stroke-dasharray="8.96 2.3 1.8 2.3"/>
<text x="576" y="645.70" text-anchor="end">0.9Gyr</text>
<path d="M587.8,639.10H643.6" fill="none" stroke="#808080" stroke-width="3.9" stroke-dasharray="3.3 2.27 3.3 2.27 3.3 2.27 3.3 5.04"/>
<path d="M128.30,592.98 L129.65,593.02 L131.00,593.14 L132.35,593.34 L133.70,593.62 L135.05,593.97 L136.40,594.40 L137.75,594.90 L139.10,595.47 L140.45,596.10 L141.80,596.80 L143.15,597.56 L144.50,598.38 L145.85,599.25 L147.20,600.17 L148.55,601.14 L149.90,602.16 L151.25,603.23 L152.60,604.34 L153.95,605.49 L155.30,606.67 L156.65,607.90 L158.00,609.16 L159.35,610.45 L160.70,611.77 L162.05,613.13 L163.40,614.52 L164.75,615.93 L166.10,617.37 L167.45,618.84 L168.80,620.33 L170.15,621.84 L171.50,623.38 L172.85,624.94 L174.20,626.53 L175.55,628.13 L176.90,629.76 L178.25,631.41 L179.60,633.07 L180.95,634.76 L182.31,636.46 L183.66,638.18 L185.01,639.92 L186.36,641.67 L187.71,643.45 L189.06,645.23 L190.41,647.04 L191.76,648.86 L193.11,650.69 L194.46,652.54 L195.81,654.41 L197.16,656.28 L198.51,658.18 L199.86,660.08 L201.21,662.00 L202.56,663.94 L203.91,665.88 L205.26,667.84 L206.61,669.82 L207.96,671.80 L209.31,673.80 L210.66,675.81 L212.01,677.83 L213.36,679.86 L214.71,681.90 L216.06,683.96 L217.41,686.02 L218.76,688.10 L220.11,690.19 L221.46,692.29 L222.81,694.40 L224.16,696.52 L225.51,698.65 L226.86,700.79 L228.21,702.94 L229.56,705.10 L230.91,707.27 L232.26,709.45 L233.61,711.64 L234.96,713.84 L236.31,716.05 L237.66,718.27 L239.01,720.50 L240.36,722.73 L241.71,724.98 L243.06,727.23 L244.41,729.50 L245.76,731.77 L247.11,734.05 L248.46,736.34 L249.81,738.64 L251.16,740.95 L252.51,743.26 L253.86,745.58 L255.21,747.92 L256.56,750.26 L257.91,752.60 L259.26,754.96 L260.61,757.33 L261.96,759.70 L263.31,762.08 L264.66,764.46 L266.01,766.86 L267.36,769.26 L268.71,771.67 L270.06,774.09 L271.41,776.52 L272.76,778.95 L274.11,781.39 L275.46,783.84 L276.81,786.29 L278.16,788.76 L279.51,791.23 L280.86,793.70 L282.21,796.19 L283.56,798.68 L284.91,801.17 L286.26,803.68 L287.61,806.19 L288.96,808.71 L290.32,811.23 L291.67,813.77 L293.02,816.30 L294.37,818.85 L295.72,821.40 L297.07,823.96 L298.42,826.52 L299.77,829.10 L301.12,831.67 L302.47,834.26 L303.82,836.85 L305.17,839.45 L306.52,842.05 L307.87,844.66 L309.22,847.27 L310.57,849.90 L311.92,852.52 L313.27,855.16 L314.62,857.80 L315.97,860.45 L317.32,863.10 L318.67,865.76 L320.02,868.42 L321.37,871.09 L322.72,873.77 L324.07,876.45 L325.42,879.14 L326.77,881.83 L328.12,884.53 L329.47,887.24 L330.82,889.95 L332.17,892.66 L333.52,895.39 L334.87,898.12 L336.22,900.85 L337.57,903.59 L338.92,906.33 L340.27,909.08 L341.62,911.84 L342.97,914.60 L344.32,917.37 L345.67,920.14 L347.02,922.92 L348.37,925.70 L349.72,928.49 L351.07,931.28 L352.42,934.08 L353.77,936.89 L355.12,939.70 L355.94,941.40" fill="none" stroke="#808080" stroke-width="3.9" stroke-dasharray="3.3 2.27 3.3 2.27 3.3 2.27 3.3 5.04"/>
<text x="576" y="665.20" text-anchor="end">0.5Gyr</text>
<path d="M587.8,658.60H643.6" fill="none" stroke="#000000" stroke-width="3.9" stroke-dasharray="3.3 2.4 3.3 7.73"/>
<path d="M128.30,592.98 L129.65,593.02 L131.00,593.14 L132.35,593.33 L133.70,593.59 L135.05,593.94 L136.40,594.36 L137.75,594.85 L139.10,595.41 L140.45,596.05 L141.80,596.76 L143.15,597.54 L144.50,598.40 L145.85,599.31 L147.20,600.30 L148.55,601.35 L149.90,602.47 L151.25,603.65 L152.60,604.89 L153.95,606.20 L155.30,607.56 L156.65,608.98 L158.00,610.45 L159.35,611.98 L160.70,613.56 L162.05,615.20 L163.40,616.88 L164.75,618.62 L166.10,620.40 L167.45,622.22 L168.80,624.10 L170.15,626.01 L171.50,627.97 L172.85,629.97 L174.20,632.01 L175.55,634.08 L176.90,636.20 L178.25,638.35 L179.60,640.54 L180.95,642.76 L182.31,645.01 L183.66,647.30 L185.01,649.62 L186.36,651.96 L187.71,654.34 L189.06,656.75 L190.41,659.19 L191.76,661.65 L193.11,664.14 L194.46,666.65 L195.81,669.19 L197.16,671.76 L198.51,674.34 L199.86,676.96 L201.21,679.59 L202.56,682.25 L203.91,684.92 L205.26,687.62 L206.61,690.34 L207.96,693.08 L209.31,695.83 L210.66,698.61 L212.01,701.41 L213.36,704.22 L214.71,707.05 L216.06,709.90 L217.41,712.76 L218.76,715.64 L220.11,718.54 L221.46,721.45 L222.81,724.38 L224.16,727.32 L225.51,730.28 L226.86,733.25 L228.21,736.24 L229.56,739.24 L230.91,742.25 L232.26,745.28 L233.61,748.32 L234.96,751.37 L236.31,754.43 L237.66,757.51 L239.01,760.60 L240.36,763.70 L241.71,766.81 L243.06,769.94 L244.41,773.07 L245.76,776.22 L247.11,779.37 L248.46,782.54 L249.81,785.72 L251.16,788.91 L252.51,792.11 L253.86,795.32 L255.21,798.53 L256.56,801.76 L257.91,805.00 L259.26,808.25 L260.61,811.50 L261.96,814.77 L263.31,818.04 L264.66,821.32 L266.01,824.62 L267.36,827.92 L268.71,831.22 L270.06,834.54 L271.41,837.87 L272.76,841.20 L274.11,844.54 L275.46,847.89 L276.81,851.24 L278.16,854.61 L279.51,857.98 L280.86,861.36 L282.21,864.75 L283.56,868.14 L284.91,871.54 L286.26,874.95 L287.61,878.37 L288.96,881.79 L290.32,885.22 L291.67,888.65 L293.02,892.10 L294.37,895.54 L295.72,899.00 L297.07,902.46 L298.42,905.93 L299.77,909.41 L301.12,912.89 L302.47,916.38 L303.82,919.87 L305.17,923.37 L306.52,926.87 L307.87,930.39 L309.22,933.90 L310.57,937.43 L311.92,940.96 L312.09,941.40" fill="none" stroke="#000000" stroke-width="3.9" stroke-dasharray="3.3 2.4 3.3 7.73"/>
<text x="576" y="684.70" text-anchor="end">0.15Gyr</text>
<path d="M587.8,678.10H643.6" fill="none" stroke="#ff4500" stroke-width="3.9" stroke-dasharray="8.9 2.3 1.7 2.5 1.7 2.55" stroke-dashoffset="15.4"/>
<path d="M128.30,592.98 L129.65,593.04 L131.00,593.23 L132.35,593.53 L133.70,593.96 L135.05,594.51 L136.40,595.18 L137.75,595.97 L139.10,596.88 L140.45,597.91 L141.80,599.06 L143.15,600.33 L144.50,601.71 L145.85,603.21 L147.20,604.82 L148.55,606.54 L149.90,608.37 L151.25,610.32 L152.60,612.37 L153.95,614.53 L155.30,616.80 L156.65,619.17 L158.00,621.64 L159.35,624.21 L160.70,626.88 L162.05,629.65 L163.40,632.52 L164.75,635.48 L166.10,638.54 L167.45,641.68 L168.80,644.92 L170.15,648.25 L171.50,651.66 L172.85,655.16 L174.20,658.74 L175.55,662.40 L176.90,666.15 L178.25,669.98 L179.60,673.88 L180.95,677.87 L182.31,681.92 L183.66,686.06 L185.01,690.26 L186.36,694.54 L187.71,698.89 L189.06,703.31 L190.41,707.80 L191.76,712.35 L193.11,716.98 L194.46,721.66 L195.81,726.41 L197.16,731.23 L198.51,736.10 L199.86,741.04 L201.21,746.04 L202.56,751.10 L203.91,756.21 L205.26,761.39 L206.61,766.62 L207.96,771.90 L209.31,777.25 L210.66,782.64 L212.01,788.09 L213.36,793.59 L214.71,799.15 L216.06,804.75 L217.41,810.41 L218.76,816.12 L220.11,821.87 L221.46,827.68 L222.81,833.53 L224.16,839.43 L225.51,845.38 L226.86,851.37 L228.21,857.41 L229.56,863.50 L230.91,869.63 L232.26,875.80 L233.61,882.02 L234.96,888.28 L236.31,894.59 L237.66,900.93 L239.01,907.32 L240.36,913.75 L241.71,920.22 L243.06,926.73 L244.41,933.28 L245.76,939.87 L246.07,941.40" fill="none" stroke="#ff4500" stroke-width="3.9" stroke-dasharray="8.9 2.3 1.7 2.5 1.7 2.55" stroke-dashoffset="15.4"/>
</svg>
</body></html>
